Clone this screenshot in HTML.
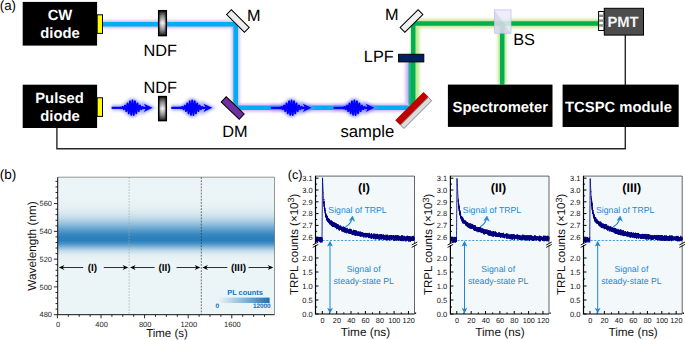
<!DOCTYPE html>
<html><head><meta charset="utf-8"><title>Figure</title>
<style>
html,body{margin:0;padding:0;background:#fff;}
body{width:685px;height:340px;overflow:hidden;}
svg{display:block;font-family:"Liberation Sans", Arial, sans-serif;text-rendering:geometricPrecision;}
.b{font-weight:bold;}
</style></head><body>
<svg width="685" height="340" viewBox="0 0 685 340">
<defs>
<filter id="gl" x="0" y="0" width="685" height="340" filterUnits="userSpaceOnUse"><feGaussianBlur stdDeviation="1.5"/></filter>
<filter id="gp" x="0" y="0" width="685" height="340" filterUnits="userSpaceOnUse"><feGaussianBlur stdDeviation="1.8"/></filter>
<linearGradient id="ndf" x1="0" y1="0" x2="0" y2="1"><stop offset="0" stop-color="#1c1c1c"/><stop offset="0.22" stop-color="#8e8e8e"/><stop offset="0.5" stop-color="#f6f6f6"/><stop offset="0.78" stop-color="#8e8e8e"/><stop offset="1" stop-color="#1c1c1c"/></linearGradient>
<linearGradient id="ndfh" x1="0" y1="0" x2="1" y2="0"><stop offset="0" stop-color="#000" stop-opacity="0.28"/><stop offset="0.5" stop-color="#000" stop-opacity="0"/><stop offset="1" stop-color="#000" stop-opacity="0.28"/></linearGradient>
<linearGradient id="hm" x1="0" y1="0" x2="0" y2="1">
<stop offset="0.000" stop-color="rgb(235,244,246)"/>
<stop offset="0.020" stop-color="rgb(235,244,246)"/>
<stop offset="0.040" stop-color="rgb(235,244,246)"/>
<stop offset="0.060" stop-color="rgb(235,244,246)"/>
<stop offset="0.080" stop-color="rgb(235,244,246)"/>
<stop offset="0.100" stop-color="rgb(235,244,246)"/>
<stop offset="0.120" stop-color="rgb(235,244,246)"/>
<stop offset="0.140" stop-color="rgb(235,244,246)"/>
<stop offset="0.160" stop-color="rgb(234,243,246)"/>
<stop offset="0.180" stop-color="rgb(233,243,245)"/>
<stop offset="0.200" stop-color="rgb(231,242,245)"/>
<stop offset="0.220" stop-color="rgb(228,240,244)"/>
<stop offset="0.240" stop-color="rgb(223,237,243)"/>
<stop offset="0.260" stop-color="rgb(216,232,240)"/>
<stop offset="0.280" stop-color="rgb(205,226,237)"/>
<stop offset="0.300" stop-color="rgb(190,217,233)"/>
<stop offset="0.320" stop-color="rgb(171,205,227)"/>
<stop offset="0.340" stop-color="rgb(148,191,220)"/>
<stop offset="0.360" stop-color="rgb(122,176,213)"/>
<stop offset="0.380" stop-color="rgb(96,160,205)"/>
<stop offset="0.400" stop-color="rgb(72,146,198)"/>
<stop offset="0.420" stop-color="rgb(54,134,193)"/>
<stop offset="0.440" stop-color="rgb(43,128,190)"/>
<stop offset="0.460" stop-color="rgb(41,127,189)"/>
<stop offset="0.480" stop-color="rgb(67,142,197)"/>
<stop offset="0.500" stop-color="rgb(114,171,211)"/>
<stop offset="0.520" stop-color="rgb(162,200,225)"/>
<stop offset="0.540" stop-color="rgb(199,222,235)"/>
<stop offset="0.560" stop-color="rgb(220,235,242)"/>
<stop offset="0.580" stop-color="rgb(230,241,244)"/>
<stop offset="0.600" stop-color="rgb(233,243,246)"/>
<stop offset="0.620" stop-color="rgb(235,244,246)"/>
<stop offset="0.640" stop-color="rgb(235,244,246)"/>
<stop offset="0.660" stop-color="rgb(235,244,246)"/>
<stop offset="0.680" stop-color="rgb(235,244,246)"/>
<stop offset="0.700" stop-color="rgb(235,244,246)"/>
<stop offset="0.720" stop-color="rgb(235,244,246)"/>
<stop offset="0.740" stop-color="rgb(235,244,246)"/>
<stop offset="0.760" stop-color="rgb(235,244,246)"/>
<stop offset="0.780" stop-color="rgb(235,244,246)"/>
<stop offset="0.800" stop-color="rgb(235,244,246)"/>
<stop offset="0.820" stop-color="rgb(235,244,246)"/>
<stop offset="0.840" stop-color="rgb(235,244,246)"/>
<stop offset="0.860" stop-color="rgb(235,244,246)"/>
<stop offset="0.880" stop-color="rgb(235,244,246)"/>
<stop offset="0.900" stop-color="rgb(235,244,246)"/>
<stop offset="0.920" stop-color="rgb(235,244,246)"/>
<stop offset="0.940" stop-color="rgb(235,244,246)"/>
<stop offset="0.960" stop-color="rgb(235,244,246)"/>
<stop offset="0.980" stop-color="rgb(235,244,246)"/>
<stop offset="1.000" stop-color="rgb(235,244,246)"/>
</linearGradient>
<linearGradient id="cb" x1="0" y1="0" x2="1" y2="0"><stop offset="0" stop-color="#eef6f8"/><stop offset="0.5" stop-color="#86b9dc"/><stop offset="1" stop-color="#1f6fb2"/></linearGradient>
<g id="pulse"><path d="M0.5,0 L9,0 L9.00,-0.26 L9.16,-0.16 L9.32,-0.01 L9.48,0.17 L9.64,0.35 L9.80,0.49 L9.96,0.57 L10.12,0.56 L10.28,0.44 L10.44,0.24 L10.60,-0.05 L10.76,-0.36 L10.92,-0.66 L11.08,-0.89 L11.24,-0.99 L11.40,-0.93 L11.56,-0.70 L11.72,-0.31 L11.88,0.18 L12.04,0.70 L12.20,1.16 L12.36,1.48 L12.52,1.59 L12.68,1.43 L12.84,1.00 L13.00,0.36 L13.16,-0.43 L13.32,-1.22 L13.48,-1.89 L13.64,-2.31 L13.80,-2.38 L13.96,-2.04 L14.12,-1.33 L14.28,-0.32 L14.44,0.84 L14.60,1.97 L14.76,2.86 L14.92,3.34 L15.08,3.31 L15.24,2.71 L15.40,1.61 L15.56,0.15 L15.72,-1.45 L15.88,-2.92 L16.04,-4.01 L16.20,-4.50 L16.36,-4.28 L16.52,-3.33 L16.68,-1.76 L16.84,0.19 L17.00,2.23 L17.16,4.01 L17.32,5.22 L17.48,5.64 L17.64,5.14 L17.80,3.78 L17.96,1.73 L18.12,-0.70 L18.28,-3.11 L18.44,-5.10 L18.60,-6.33 L18.76,-6.57 L18.92,-5.74 L19.08,-3.95 L19.24,-1.47 L19.40,1.32 L19.56,3.95 L19.72,6.01 L19.88,7.13 L20.04,7.11 L20.20,5.95 L20.36,3.80 L20.52,1.02 L20.68,-1.95 L20.84,-4.62 L21.00,-6.57 L21.16,-7.46 L21.32,-7.16 L21.48,-5.71 L21.64,-3.35 L21.80,-0.47 L21.96,2.47 L22.12,4.98 L22.28,6.67 L22.44,7.27 L22.60,6.70 L22.76,5.08 L22.92,2.68 L23.08,-0.09 L23.24,-2.78 L23.40,-4.95 L23.56,-6.28 L23.72,-6.58 L23.88,-5.83 L24.04,-4.18 L24.20,-1.93 L24.36,0.54 L24.52,2.82 L24.68,4.56 L24.84,5.51 L25.00,5.54 L25.16,4.70 L25.32,3.17 L25.48,1.22 L25.64,-0.82 L25.80,-2.61 L25.96,-3.89 L26.12,-4.48 L26.28,-4.34 L26.44,-3.53 L26.60,-2.22 L26.76,-0.65 L26.92,0.91 L27.08,2.21 L27.24,3.08 L27.40,3.40 L27.56,3.16 L27.72,2.45 L27.88,1.42 L28.04,0.25 L28.20,-0.85 L28.36,-1.73 L28.52,-2.26 L28.68,-2.39 L28.84,-2.14 L29.00,-1.58 L29.16,-0.83 L29.32,-0.02 L29.48,0.70 L29.64,1.25 L29.80,1.54 L29.96,1.57 L30.12,1.35 L30.28,0.94 L30.44,0.44 L30.60,-0.08 L30.76,-0.52 L30.92,-0.83 L31.08,-0.98 L31.24,-0.95 L31.40,-0.79 L31.56,-0.52 L31.72,-0.20 L31.88,0.10 L32.04,0.35 L32.20,0.51 L32.36,0.58 L32.52,0.54 L32.68,0.43 L32.84,0.26 L33.00,0.08 L36,0" fill="none" stroke-width="1.7" stroke-linejoin="round"/><path d="M0.5,0 H36" fill="none" stroke-width="2.1"/><path d="M41.3,0 L32.6,-4.1 L34.8,0 L32.6,4.1 Z" stroke="none"/></g>
<g id="pulseg"><path d="M0.5,0 L9,0 L9.00,-0.26 L9.16,-0.16 L9.32,-0.01 L9.48,0.17 L9.64,0.35 L9.80,0.49 L9.96,0.57 L10.12,0.56 L10.28,0.44 L10.44,0.24 L10.60,-0.05 L10.76,-0.36 L10.92,-0.66 L11.08,-0.89 L11.24,-0.99 L11.40,-0.93 L11.56,-0.70 L11.72,-0.31 L11.88,0.18 L12.04,0.70 L12.20,1.16 L12.36,1.48 L12.52,1.59 L12.68,1.43 L12.84,1.00 L13.00,0.36 L13.16,-0.43 L13.32,-1.22 L13.48,-1.89 L13.64,-2.31 L13.80,-2.38 L13.96,-2.04 L14.12,-1.33 L14.28,-0.32 L14.44,0.84 L14.60,1.97 L14.76,2.86 L14.92,3.34 L15.08,3.31 L15.24,2.71 L15.40,1.61 L15.56,0.15 L15.72,-1.45 L15.88,-2.92 L16.04,-4.01 L16.20,-4.50 L16.36,-4.28 L16.52,-3.33 L16.68,-1.76 L16.84,0.19 L17.00,2.23 L17.16,4.01 L17.32,5.22 L17.48,5.64 L17.64,5.14 L17.80,3.78 L17.96,1.73 L18.12,-0.70 L18.28,-3.11 L18.44,-5.10 L18.60,-6.33 L18.76,-6.57 L18.92,-5.74 L19.08,-3.95 L19.24,-1.47 L19.40,1.32 L19.56,3.95 L19.72,6.01 L19.88,7.13 L20.04,7.11 L20.20,5.95 L20.36,3.80 L20.52,1.02 L20.68,-1.95 L20.84,-4.62 L21.00,-6.57 L21.16,-7.46 L21.32,-7.16 L21.48,-5.71 L21.64,-3.35 L21.80,-0.47 L21.96,2.47 L22.12,4.98 L22.28,6.67 L22.44,7.27 L22.60,6.70 L22.76,5.08 L22.92,2.68 L23.08,-0.09 L23.24,-2.78 L23.40,-4.95 L23.56,-6.28 L23.72,-6.58 L23.88,-5.83 L24.04,-4.18 L24.20,-1.93 L24.36,0.54 L24.52,2.82 L24.68,4.56 L24.84,5.51 L25.00,5.54 L25.16,4.70 L25.32,3.17 L25.48,1.22 L25.64,-0.82 L25.80,-2.61 L25.96,-3.89 L26.12,-4.48 L26.28,-4.34 L26.44,-3.53 L26.60,-2.22 L26.76,-0.65 L26.92,0.91 L27.08,2.21 L27.24,3.08 L27.40,3.40 L27.56,3.16 L27.72,2.45 L27.88,1.42 L28.04,0.25 L28.20,-0.85 L28.36,-1.73 L28.52,-2.26 L28.68,-2.39 L28.84,-2.14 L29.00,-1.58 L29.16,-0.83 L29.32,-0.02 L29.48,0.70 L29.64,1.25 L29.80,1.54 L29.96,1.57 L30.12,1.35 L30.28,0.94 L30.44,0.44 L30.60,-0.08 L30.76,-0.52 L30.92,-0.83 L31.08,-0.98 L31.24,-0.95 L31.40,-0.79 L31.56,-0.52 L31.72,-0.20 L31.88,0.10 L32.04,0.35 L32.20,0.51 L32.36,0.58 L32.52,0.54 L32.68,0.43 L32.84,0.26 L33.00,0.08 L36,0" fill="none" stroke-width="4.5" stroke-linejoin="round"/><path d="M0.5,0 H36" fill="none" stroke-width="5"/><path d="M41.3,0 L32.6,-4.1 L34.8,0 L32.6,4.1 Z" stroke-width="3"/></g>
</defs>
<rect width="685" height="340" fill="#fff"/>

<g filter="url(#gl)" fill="none" stroke-linecap="butt">
<path d="M103,24.2 H235.7 V107.7 H408" stroke="#c39bf0" stroke-width="7.6" opacity="0.8"/>
<path d="M409.3,104 V62" stroke="#c39bf0" stroke-width="7.6" opacity="0.8"/>
<path d="M415,104 V23.6 H600" stroke="#9ad84a" stroke-width="8.5" opacity="0.62"/>
<path d="M502.2,23.6 V84" stroke="#9ad84a" stroke-width="8.5" opacity="0.62"/>
</g>
<path d="M103,24.2 H235.7 V107.7 H410" fill="none" stroke="#00aeef" stroke-width="4.6"/>
<path d="M410.2,105 V62" fill="none" stroke="#1fb38f" stroke-width="3.4"/>
<path d="M413.2,104 V23.6 H600" fill="none" stroke="#00b050" stroke-width="4.5"/>
<path d="M502.2,23.6 V84.5" fill="none" stroke="#00b050" stroke-width="4.5"/>
<path d="M56.9,127 V148.8 H625.3 V126" fill="none" stroke="#262626" stroke-width="1.4"/>
<path d="M625.3,35 V85" fill="none" stroke="#262626" stroke-width="1.4"/>
<rect x="22.7" y="1.9" width="74.4" height="43.7" fill="#000"/>
<rect x="22.7" y="84.7" width="74.4" height="43.3" fill="#000"/>
<rect x="447.9" y="84.6" width="104.6" height="42.3" fill="#000"/>
<rect x="562.6" y="84.6" width="116.1" height="42.4" fill="#000"/>
<rect x="97.2" y="14.8" width="5.3" height="18.6" fill="#ffff00" stroke="#000" stroke-width="1"/>
<rect x="97.2" y="97.8" width="5.3" height="18.6" fill="#ffff00" stroke="#000" stroke-width="1"/>
<rect x="604.3" y="8.3" width="39.2" height="26.8" fill="#4d4d4d" stroke="#000" stroke-width="1"/>
<rect x="598.6" y="11.5" width="5.4" height="19" fill="#fff" stroke="#000" stroke-width="1"/>
<rect x="599.1" y="14.6" width="4.4" height="2.4" fill="#888"/>
<rect x="599.1" y="19.4" width="4.4" height="2.4" fill="#888"/>
<rect x="599.1" y="24.2" width="4.4" height="2.4" fill="#888"/>
<text x="60" y="20.1" font-size="14.8" text-anchor="middle" fill="#fff" class="b">CW</text>
<text x="60" y="37.7" font-size="14.8" text-anchor="middle" fill="#fff" class="b">diode</text>
<text x="59.5" y="103.1" font-size="14.8" text-anchor="middle" fill="#fff" class="b">Pulsed</text>
<text x="60" y="121.1" font-size="14.8" text-anchor="middle" fill="#fff" class="b">diode</text>
<text x="500.3" y="111.5" font-size="14.8" text-anchor="middle" fill="#fff" class="b">Spectrometer</text>
<text x="618.5" y="111.5" font-size="14.8" text-anchor="middle" fill="#fff" class="b">TCSPC module</text>
<text x="623" y="26.9" font-size="14.8" text-anchor="middle" fill="#f4f4f4" class="b">PMT</text>
<rect x="158.7" y="10.7" width="7.6" height="24.9" fill="url(#ndf)" stroke="#000" stroke-width="1.5"/><rect x="158.7" y="10.7" width="7.6" height="24.9" fill="url(#ndfh)"/>
<rect x="158.7" y="96.6" width="7.6" height="24" fill="url(#ndf)" stroke="#000" stroke-width="1.5"/><rect x="158.7" y="96.6" width="7.6" height="24" fill="url(#ndfh)"/>
<text x="160.2" y="55.6" font-size="16.3" text-anchor="middle" fill="#000">NDF</text>
<text x="160.2" y="93.2" font-size="16.3" text-anchor="middle" fill="#000">NDF</text>
<rect x="-12.6" y="-3.4" width="25.2" height="6.8" transform="translate(237.9,21) rotate(45)" fill="#ececec" stroke="#000" stroke-width="1"/>
<rect x="-12.6" y="-3.4" width="25.2" height="6.8" transform="translate(411.5,21) rotate(-44.5)" fill="#f0f0f0" stroke="#000" stroke-width="1"/>
<text x="253.9" y="20.5" font-size="16.3" text-anchor="middle" fill="#000">M</text>
<text x="391.9" y="20.3" font-size="16.3" text-anchor="middle" fill="#000">M</text>
<rect x="-12.5" y="-3.6" width="25" height="7.2" transform="translate(232.7,108) rotate(44)" fill="#7030a0" stroke="#000" stroke-width="1"/>
<text x="235" y="137.2" font-size="16.3" text-anchor="middle" fill="#000">DM</text>
<rect x="398.6" y="54.3" width="25.2" height="7.6" fill="#002060" stroke="#000" stroke-width="1"/>
<text x="378.8" y="62.4" font-size="16.3" text-anchor="middle" fill="#000">LPF</text>
<rect x="494.4" y="9.9" width="16.6" height="23.3" fill="#e9eafc" fill-opacity="0.84" stroke="#b4c0ee" stroke-width="0.7"/>
<path d="M494.4,9.9 L511,33.2 L494.4,33.2 Z" fill="#b9bccb" fill-opacity="0.35"/>
<text x="524" y="45.2" font-size="16.3" text-anchor="middle" fill="#000">BS</text>
<g transform="translate(413.7,110.5) rotate(-45)"><rect x="-20" y="-6.1" width="40" height="7.1" fill="#c00000"/><rect x="-19.6" y="1.0" width="39.2" height="4.8" fill="#dcdcdc" stroke="#7f7f7f" stroke-width="0.9"/></g>
<text x="367.4" y="137.2" font-size="16.7" text-anchor="middle" fill="#000">sample</text>
<g filter="url(#gp)" opacity="0.8"><use href="#pulseg" x="111.3" y="107.8" stroke="#8a92ff" fill="#8a92ff"/></g>
<use href="#pulse" x="111.3" y="107.8" stroke="#0000ff" fill="#0000ff"/>
<g filter="url(#gp)" opacity="0.8"><use href="#pulseg" x="171" y="107.8" stroke="#8a92ff" fill="#8a92ff"/></g>
<use href="#pulse" x="171" y="107.8" stroke="#0000ff" fill="#0000ff"/>
<g filter="url(#gp)" opacity="0.8"><use href="#pulseg" x="270.3" y="107.8" stroke="#8a92ff" fill="#8a92ff"/></g>
<use href="#pulse" x="270.3" y="107.8" stroke="#0000ff" fill="#0000ff"/>
<g filter="url(#gp)" opacity="0.8"><use href="#pulseg" x="333.2" y="107.8" stroke="#8a92ff" fill="#8a92ff"/></g>
<use href="#pulse" x="333.2" y="107.8" stroke="#0000ff" fill="#0000ff"/>
<text x="-0.3" y="9.8" font-size="13.3" text-anchor="start" fill="#000">(a)</text>
<text x="-0.3" y="179" font-size="13.5" text-anchor="start" fill="#000">(b)</text>
<text x="287.7" y="179.1" font-size="12.7" text-anchor="start" fill="#000">(c)</text>
<rect x="57.7" y="177.2" width="216.8" height="137.5" fill="url(#hm)"/>
<path d="M129.1,177.2 V314.7" stroke="#a8a8a8" stroke-width="0.7" stroke-dasharray="1.6,1.4"/>
<path d="M201.3,177.2 V314.7" stroke="#333" stroke-width="0.7" stroke-dasharray="1.8,1.3"/>
<path d="M57.7,177.2 V314.7 H274.5" fill="none" stroke="#111" stroke-width="1"/>
<path d="M57.7,177.2 H274.5 V314.7" fill="none" stroke="#555" stroke-width="0.6"/>
<text x="52" y="317.4" font-size="7.5" text-anchor="end" fill="#222">480</text>
<text x="52" y="289.6" font-size="7.5" text-anchor="end" fill="#222">500</text>
<text x="52" y="261.8" font-size="7.5" text-anchor="end" fill="#222">520</text>
<text x="52" y="234.1" font-size="7.5" text-anchor="end" fill="#222">540</text>
<text x="52" y="206.3" font-size="7.5" text-anchor="end" fill="#222">560</text>
<text x="58.0" y="326.8" font-size="7.5" text-anchor="middle" fill="#222">0</text>
<text x="101.6" y="326.8" font-size="7.5" text-anchor="middle" fill="#222">400</text>
<text x="145.2" y="326.8" font-size="7.5" text-anchor="middle" fill="#222">800</text>
<text x="188.8" y="326.8" font-size="7.5" text-anchor="middle" fill="#222">1200</text>
<text x="232.4" y="326.8" font-size="7.5" text-anchor="middle" fill="#222">1600</text>
<path d="M53.9,314.70 H57.7 M55.5,309.14 H57.7 M55.5,303.59 H57.7 M55.5,298.03 H57.7 M55.5,292.48 H57.7 M53.9,286.92 H57.7 M55.5,281.36 H57.7 M55.5,275.81 H57.7 M55.5,270.25 H57.7 M55.5,264.70 H57.7 M53.9,259.14 H57.7 M55.5,253.58 H57.7 M55.5,248.03 H57.7 M55.5,242.47 H57.7 M55.5,236.92 H57.7 M53.9,231.36 H57.7 M55.5,225.80 H57.7 M55.5,220.25 H57.7 M55.5,214.69 H57.7 M55.5,209.14 H57.7 M53.9,203.58 H57.7 M55.5,198.02 H57.7 M55.5,192.47 H57.7 M55.5,186.91 H57.7 M55.5,181.36 H57.7 M57.40,314.7 V318.3 M68.30,314.7 V316.8 M79.20,314.7 V316.8 M90.10,314.7 V316.8 M101.00,314.7 V318.3 M111.90,314.7 V316.8 M122.80,314.7 V316.8 M133.70,314.7 V316.8 M144.60,314.7 V318.3 M155.50,314.7 V316.8 M166.40,314.7 V316.8 M177.30,314.7 V316.8 M188.20,314.7 V318.3 M199.10,314.7 V316.8 M210.00,314.7 V316.8 M220.90,314.7 V316.8 M231.80,314.7 V318.3 M242.70,314.7 V316.8 M253.60,314.7 V316.8 M264.50,314.7 V316.8" stroke="#111" stroke-width="0.9" fill="none"/>
<text x="167" y="337.2" font-size="11.5" text-anchor="middle" fill="#111">Time (s)</text>
<text transform="translate(35.6,246) rotate(-90)" font-size="11.8" text-anchor="middle" fill="#111">Wavelength (nm)</text>
<path d="M60.8,267.5 H83.2 M103.8,267.5 H126.2" stroke="#000" stroke-width="0.8"/>
<path d="M58.8,267.5 l5.6,-2.4 l-1.7,2.4 l1.7,2.4 Z" fill="#000"/>
<path d="M128.2,267.5 l-5.6,-2.4 l1.7,2.4 l-1.7,2.4 Z" fill="#000"/>
<text x="92.4" y="271.0" font-size="10" text-anchor="middle" fill="#000" class="b">(I)</text>
<path d="M132.0,267.5 H154.6 M176.5,267.5 H198.3" stroke="#000" stroke-width="0.8"/>
<path d="M130.0,267.5 l5.6,-2.4 l-1.7,2.4 l1.7,2.4 Z" fill="#000"/>
<path d="M200.3,267.5 l-5.6,-2.4 l1.7,2.4 l-1.7,2.4 Z" fill="#000"/>
<text x="164.6" y="271.0" font-size="10" text-anchor="middle" fill="#000" class="b">(II)</text>
<path d="M204.3,267.5 H227.4 M248.5,267.5 H271.3" stroke="#000" stroke-width="0.8"/>
<path d="M202.3,267.5 l5.6,-2.4 l-1.7,2.4 l1.7,2.4 Z" fill="#000"/>
<path d="M273.3,267.5 l-5.6,-2.4 l1.7,2.4 l-1.7,2.4 Z" fill="#000"/>
<text x="238.5" y="271.0" font-size="10" text-anchor="middle" fill="#000" class="b">(III)</text>
<rect x="217.5" y="297.6" width="52.1" height="5.4" fill="url(#cb)"/>
<text x="245" y="295.2" font-size="7.4" text-anchor="middle" fill="#1170c4" class="b">PL counts</text>
<text x="217.4" y="308.4" font-size="6.4" text-anchor="middle" fill="#1170c4" class="b">0</text>
<text x="261.8" y="308.4" font-size="6.4" text-anchor="middle" fill="#1170c4" class="b">12000</text>
<rect x="315.5" y="176.1" width="99.0" height="137.9" fill="#f3f9fb"/>
<path d="M322.5,240.5 H414.5" stroke="#1f86d0" stroke-width="0.8" stroke-dasharray="2.2,1.5"/>
<polyline points="316.27,241.31 316.30,239.33 316.34,238.56 316.38,240.43 316.41,241.44 316.45,239.88 316.48,239.20 316.52,238.44 316.56,241.30 316.59,241.40 316.63,238.92 316.66,239.21 316.70,237.90 316.74,238.58 316.77,239.92 316.81,240.14 316.84,236.96 316.88,240.15 316.92,240.77 316.95,241.21 316.99,239.68 317.02,239.62 317.06,240.22 317.09,239.87 317.13,239.46 317.17,238.94 317.20,238.44 317.24,239.54 317.27,242.01 317.31,238.93 317.35,241.56 317.38,240.01 317.42,241.62 317.45,239.79 317.49,240.76 317.53,239.53 317.56,236.96 317.60,239.86 317.63,238.75 317.67,241.44 317.70,240.15 317.74,238.98 317.78,239.91 317.81,239.34 317.85,239.67 317.88,241.04 317.92,239.10 317.96,240.80 317.99,237.48 318.03,240.42 318.06,238.95 318.10,239.79 318.14,238.62 318.17,240.54 318.21,238.56 318.24,239.95 318.28,238.23 318.32,239.02 318.35,239.62 318.39,240.76 318.42,238.84 318.46,239.22 318.49,237.76 318.53,240.26 318.57,239.11 318.60,239.17 318.64,239.45 318.67,239.54 318.71,239.57 318.75,240.54 318.78,241.05 318.82,240.29 318.85,239.06 318.89,237.92 318.93,238.59 318.96,238.49 319.00,238.83 319.03,238.93 319.07,239.57 319.10,238.84 319.14,237.60 319.18,240.20 319.21,240.66 319.25,237.37 319.28,239.49 319.32,238.59 319.36,238.71 319.39,241.20 319.43,236.96 319.46,237.60 319.50,239.58 319.54,238.86 319.57,239.64 319.61,240.89 319.64,239.93 319.68,239.33 319.72,238.41 319.75,238.92 319.79,239.72 319.82,238.12 319.86,240.74 319.89,238.81 319.93,238.42 319.97,240.16 320.00,242.01 320.04,240.92 320.07,239.50 320.11,239.14 320.15,237.88 320.18,241.04 320.22,239.79 320.25,238.99 320.29,239.99 320.33,242.63 320.36,238.80 320.40,236.96 320.43,238.55 320.47,240.93 320.50,240.31 320.54,239.52 320.58,236.96 320.61,239.03 320.65,239.66 320.68,237.87 320.72,239.90 320.76,237.49 320.79,240.64 320.83,240.38 320.86,238.90 320.90,238.03 320.94,238.99 320.97,239.42 321.01,242.05 321.04,240.68 321.08,240.55 321.12,240.46 321.15,239.07 321.19,240.21 321.22,238.82 321.26,239.69 321.29,240.21 321.33,239.65 321.37,239.26 321.40,238.73 321.44,240.39 321.47,240.08 321.51,241.49 321.55,237.81 321.58,238.00 321.62,240.02 321.65,240.39 321.69,241.33 321.73,239.59 321.76,239.54 321.80,237.09 321.83,239.49 321.87,240.76 321.91,242.63 321.94,238.05 321.98,239.56 322.01,241.79 322.05,235.35 322.08,231.63 322.12,225.80 322.16,221.85 322.19,217.67 322.23,213.56 322.26,209.91 322.30,204.78 322.34,200.93 322.37,195.75 322.41,192.38 322.44,187.54 322.48,182.37 322.52,177.82 322.55,179.50 322.59,180.51 322.62,180.48 322.66,181.34 322.69,182.85 322.73,183.55 322.77,184.34 322.80,185.30 322.84,185.87 322.87,185.89 322.91,186.83 322.95,187.03 322.98,188.52 323.02,189.22 323.05,190.20 323.09,190.53 323.13,191.61 323.16,192.40 323.20,192.09 323.23,192.41 323.27,193.22 323.31,193.61 323.34,194.57 323.38,195.48 323.41,195.71 323.45,196.41 323.48,197.20 323.52,197.91 323.56,198.33 323.59,198.26 323.63,198.67 323.66,199.36 323.70,199.11 323.74,200.01 323.77,199.79 323.81,199.43 323.84,202.37 323.88,204.20 323.92,201.22 323.95,203.40 323.99,201.30 324.02,202.88 324.06,202.41 324.10,203.07 324.13,206.95 324.17,203.82 324.20,205.88 324.24,206.31 324.27,206.24 324.31,205.06 324.35,205.23 324.38,205.37 324.42,208.98 324.45,207.94 324.49,210.33 324.53,207.90 324.56,207.30 324.60,209.26 324.63,208.27 324.67,208.55 324.71,207.84 324.74,210.35 324.78,210.60 324.81,210.76 324.85,207.87 324.88,208.92 324.92,210.65 324.96,210.43 324.99,210.78 325.03,210.88 325.06,211.60 325.10,211.96 325.14,213.30 325.17,212.73 325.21,210.08 325.24,211.65 325.28,212.41 325.32,212.94 325.35,212.77 325.39,212.59 325.42,213.99 325.46,213.12 325.50,213.22 325.53,214.61 325.57,214.82 325.60,215.23 325.64,215.46 325.67,213.19 325.71,217.27 325.75,214.91 325.78,215.48 325.82,215.63 325.85,214.87 325.89,213.73 325.93,215.16 325.96,215.56 326.00,216.27 326.03,215.79 326.07,214.62 326.11,216.36 326.14,217.41 326.18,217.67 326.21,217.59 326.25,218.05 326.28,215.07 326.32,216.10 326.36,216.94 326.39,214.94 326.43,217.67 326.46,216.02 326.50,216.06 326.54,219.06 326.57,219.17 326.61,218.49 326.64,216.31 326.68,215.91 326.72,219.13 326.75,216.40 326.79,218.26 326.82,218.35 326.86,218.63 326.90,218.43 326.93,220.36 326.97,219.43 327.00,219.80 327.04,217.74 327.07,215.83 327.11,215.66 327.15,218.99 327.18,220.78 327.22,219.22 327.25,219.95 327.29,216.40 327.33,218.21 327.36,219.89 327.40,217.90 327.43,218.46 327.47,221.20 327.51,219.91 327.54,219.61 327.58,219.35 327.61,219.27 327.65,219.91 327.69,219.32 327.72,220.34 327.76,220.78 327.79,217.85 327.83,219.34 327.86,219.29 327.90,221.87 327.94,220.15 327.97,218.99 328.01,221.65 328.04,218.74 328.08,220.64 328.12,219.71 328.15,220.42 328.19,220.04 328.22,218.86 328.26,220.90 328.30,218.51 328.33,221.47 328.37,221.70 328.40,219.71 328.44,221.96 328.47,221.14 328.51,219.60 328.55,219.27 328.58,223.01 328.62,220.23 328.65,218.57 328.69,219.46 328.73,221.28 328.76,221.77 328.80,221.44 328.83,222.54 328.87,221.48 328.91,221.42 328.94,221.41 328.98,219.80 329.01,221.59 329.05,223.15 329.09,220.08 329.12,222.75 329.16,222.01 329.19,221.66 329.23,221.96 329.26,222.81 329.30,221.91 329.34,218.93 329.37,222.43 329.41,221.88 329.44,220.35 329.48,220.86 329.52,220.87 329.55,220.78 329.59,224.32 329.62,222.99 329.66,221.79 329.70,221.36 329.73,220.41 329.77,221.47 329.80,222.37 329.84,222.06 329.87,222.40 329.91,221.87 329.95,221.37 329.98,222.66 330.02,223.28 330.05,223.36 330.09,220.97 330.13,220.77 330.16,221.16 330.20,221.36 330.23,221.42 330.27,222.48 330.31,221.69 330.34,223.84 330.38,222.82 330.41,223.51 330.45,221.72 330.49,223.37 330.52,222.82 330.56,222.21 330.59,221.06 330.63,223.75 330.66,223.96 330.70,221.81 330.74,224.22 330.77,222.32 330.81,223.61 330.84,223.06 330.88,225.21 330.92,222.10 330.95,223.63 330.99,224.15 331.02,220.49 331.06,222.21 331.10,220.28 331.13,222.64 331.17,223.60 331.20,223.06 331.24,221.23 331.28,223.28 331.31,222.71 331.35,222.66 331.38,224.45 331.42,223.19 331.45,224.00 331.49,224.94 331.53,222.34 331.56,222.62 331.60,223.38 331.63,224.62 331.67,226.01 331.71,222.94 331.74,223.69 331.78,225.68 331.81,223.69 331.85,225.53 331.89,223.70 331.92,223.51 331.96,223.27 331.99,223.47 332.03,223.55 332.06,225.20 332.10,224.28 332.14,224.47 332.17,224.15 332.21,223.54 332.24,223.13 332.28,221.90 332.32,226.78 332.35,223.47 332.39,224.24 332.42,221.20 332.46,222.88 332.50,226.11 332.53,223.59 332.57,224.75 332.60,222.90 332.64,225.46 332.68,224.30 332.71,224.36 332.75,224.34 332.78,224.97 332.82,226.54 332.85,223.72 332.89,223.07 332.93,224.41 332.96,225.61 333.00,224.12 333.03,223.70 333.07,224.64 333.11,224.46 333.14,222.72 333.18,225.87 333.21,225.20 333.25,226.89 333.29,225.41 333.32,225.48 333.36,225.78 333.39,225.47 333.43,222.41 333.46,224.90 333.50,224.82 333.54,221.97 333.57,224.79 333.61,226.89 333.64,224.26 333.68,225.94 333.72,222.77 333.75,226.37 333.79,225.56 333.82,226.85 333.86,224.76 333.90,226.16 333.93,225.01 333.97,225.41 334.00,225.73 334.04,223.82 334.08,223.85 334.11,224.95 334.15,226.16 334.18,226.39 334.22,224.75 334.25,222.28 334.29,225.69 334.33,226.12 334.36,226.03 334.40,226.55 334.43,226.41 334.47,225.48 334.51,223.47 334.54,225.27 334.58,225.92 334.61,227.31 334.65,225.06 334.69,225.38 334.72,226.89 334.76,226.73 334.79,225.46 334.83,224.17 334.87,224.67 334.90,225.21 334.94,225.89 334.97,225.11 335.01,225.54 335.04,222.85 335.08,226.97 335.12,226.04 335.15,224.03 335.19,225.95 335.22,223.88 335.26,225.72 335.30,225.50 335.33,226.16 335.37,227.43 335.40,226.94 335.44,223.01 335.48,224.98 335.51,225.04 335.55,224.63 335.58,225.13 335.62,224.59 335.65,226.20 335.69,226.17 335.73,224.69 335.76,226.36 335.80,227.59 335.83,226.24 335.87,226.66 335.91,225.24 335.94,226.91 335.98,227.35 336.01,226.47 336.05,224.15 336.09,226.15 336.12,225.91 336.16,226.12 336.19,225.78 336.23,225.02 336.27,224.46 336.30,228.24 336.34,224.54 336.37,226.25 336.41,226.66 336.44,223.45 336.48,226.51 336.52,223.91 336.55,225.13 336.59,227.63 336.62,225.76 336.66,225.47 336.70,226.56 336.73,229.26 336.77,226.87 336.80,226.70 336.84,227.85 336.88,224.23 336.91,226.82 336.95,227.02 336.98,226.92 337.02,227.54 337.05,227.55 337.09,226.49 337.13,226.23 337.16,227.27 337.20,226.77 337.23,228.40 337.27,226.04 337.31,227.64 337.34,226.46 337.38,227.87 337.41,227.40 337.45,226.51 337.49,228.30 337.52,223.98 337.56,226.88 337.59,226.94 337.63,227.78 337.67,224.91 337.70,225.18 337.74,226.55 337.77,228.63 337.81,227.58 337.84,226.21 337.88,227.62 337.92,228.47 337.95,228.49 337.99,227.99 338.02,227.04 338.06,227.88 338.10,227.07 338.13,224.27 338.17,224.93 338.20,228.43 338.24,226.73 338.28,227.07 338.31,227.36 338.35,225.92 338.38,227.64 338.42,227.64 338.46,227.72 338.49,227.40 338.53,225.70 338.56,226.35 338.60,228.99 338.63,227.89 338.67,228.35 338.71,226.36 338.74,227.11 338.78,226.31 338.81,227.50 338.85,229.81 338.89,226.90 338.92,227.19 338.96,226.86 338.99,229.12 339.03,227.42 339.07,228.39 339.10,228.41 339.14,227.14 339.17,227.15 339.21,228.71 339.24,229.74 339.28,230.47 339.32,228.37 339.35,226.28 339.39,227.76 339.42,230.49 339.46,228.79 339.50,227.21 339.53,225.68 339.57,226.32 339.60,227.33 339.64,227.56 339.68,229.13 339.71,228.39 339.75,228.26 339.78,228.82 339.82,227.80 339.86,228.38 339.89,227.49 339.93,226.15 339.96,227.02 340.00,227.44 340.03,228.27 340.07,229.87 340.11,228.15 340.14,227.35 340.18,229.29 340.21,226.50 340.25,228.48 340.29,227.62 340.32,228.51 340.36,229.67 340.39,225.57 340.43,229.59 340.47,227.02 340.50,228.87 340.54,227.85 340.57,229.21 340.61,228.74 340.64,227.10 340.68,225.84 340.72,229.32 340.75,228.27 340.79,227.13 340.82,229.10 340.86,227.45 340.90,229.32 340.93,227.61 340.97,227.84 341.00,226.89 341.04,227.96 341.08,229.90 341.11,227.62 341.15,229.82 341.18,227.54 341.22,226.61 341.26,227.76 341.29,229.20 341.33,227.05 341.36,228.34 341.40,230.10 341.43,229.01 341.47,226.83 341.51,228.98 341.54,228.47 341.58,229.06 341.61,230.74 341.65,229.30 341.69,228.24 341.72,228.43 341.76,228.92 341.79,231.37 341.83,227.22 341.87,227.86 341.90,227.50 341.94,227.17 341.97,229.35 342.01,229.56 342.05,228.44 342.08,226.77 342.12,230.94 342.15,229.15 342.19,229.77 342.22,228.20 342.26,227.10 342.30,229.29 342.33,230.48 342.37,228.89 342.40,229.32 342.44,230.90 342.48,227.90 342.51,229.66 342.55,228.18 342.58,230.67 342.62,227.70 342.66,230.86 342.69,227.78 342.73,231.34 342.76,227.40 342.80,229.59 342.83,231.07 342.87,229.45 342.91,228.75 342.94,230.41 342.98,229.81 343.01,228.88 343.05,229.43 343.09,232.07 343.12,229.79 343.16,228.74 343.19,228.91 343.23,228.04 343.27,230.16 343.30,226.49 343.34,228.35 343.37,228.96 343.41,228.02 343.45,228.20 343.48,229.27 343.52,230.17 343.55,228.15 343.59,228.91 343.62,231.79 343.66,230.83 343.70,228.90 343.73,229.35 343.77,229.15 343.80,228.72 343.84,229.35 343.88,227.58 343.91,230.29 343.95,230.06 343.98,229.18 344.02,228.67 344.06,228.63 344.09,227.78 344.13,230.23 344.16,228.20 344.20,229.08 344.23,230.97 344.27,229.86 344.31,227.12 344.34,228.74 344.38,230.31 344.41,232.58 344.45,230.67 344.49,230.64 344.52,229.69 344.56,226.97 344.59,228.89 344.63,229.44 344.67,231.00 344.70,231.32 344.74,230.12 344.77,230.46 344.81,227.06 344.85,230.40 344.88,230.68 344.92,228.53 344.95,229.85 344.99,231.48 345.02,228.37 345.06,230.37 345.10,231.64 345.13,229.61 345.17,229.42 345.20,230.45 345.24,229.18 345.28,229.04 345.31,231.16 345.35,232.63 345.38,232.93 345.42,230.27 345.46,228.60 345.49,228.89 345.53,228.42 345.56,227.86 345.60,230.15 345.64,228.88 345.67,232.09 345.71,229.36 345.74,229.74 345.78,230.35 345.81,230.80 345.85,231.64 345.89,230.10 345.92,228.70 345.96,230.75 345.99,229.65 346.03,231.15 346.07,230.02 346.10,231.60 346.14,229.89 346.17,230.64 346.21,230.00 346.25,231.15 346.28,231.87 346.32,230.83 346.35,229.15 346.39,228.49 346.42,230.86 346.46,229.48 346.50,229.55 346.53,230.01 346.57,232.43 346.60,230.12 346.64,231.74 346.68,229.09 346.71,229.58 346.75,229.81 346.78,233.42 346.82,229.83 346.86,229.74 346.89,232.20 346.93,229.43 346.96,230.55 347.00,230.88 347.04,231.55 347.07,231.94 347.11,231.23 347.14,227.87 347.18,230.46 347.21,230.47 347.25,231.54 347.29,231.52 347.32,231.45 347.36,231.87 347.39,229.70 347.43,231.13 347.47,229.74 347.50,232.25 347.54,229.68 347.57,230.88 347.61,230.03 347.65,231.00 347.68,231.98 347.72,229.39 347.75,231.44 347.79,231.10 347.82,232.03 347.86,230.69 347.90,231.43 347.93,230.61 347.97,230.55 348.00,231.84 348.04,232.75 348.08,230.47 348.11,229.88 348.15,230.17 348.18,232.46 348.22,230.31 348.26,230.59 348.29,230.73 348.33,230.56 348.36,231.50 348.40,230.85 348.44,229.98 348.47,231.76 348.51,232.93 348.54,231.29 348.58,230.93 348.61,233.47 348.65,232.03 348.69,230.47 348.72,231.40 348.76,231.11 348.79,232.80 348.83,230.13 348.87,229.09 348.90,231.52 348.94,232.19 348.97,232.73 349.01,230.20 349.05,231.19 349.08,232.31 349.12,229.83 349.15,230.40 349.19,230.61 349.23,233.55 349.26,231.51 349.30,230.62 349.33,232.92 349.37,230.26 349.40,229.65 349.44,230.16 349.48,232.34 349.51,232.34 349.55,230.30 349.58,230.25 349.62,229.97 349.66,230.01 349.69,231.64 349.73,232.03 349.76,233.83 349.80,230.57 349.84,228.74 349.87,232.14 349.91,232.17 349.94,230.79 349.98,231.14 350.01,233.31 350.05,232.51 350.09,232.99 350.12,229.14 350.16,232.54 350.19,230.61 350.23,229.30 350.27,229.34 350.30,229.93 350.34,229.69 350.37,233.25 350.41,232.16 350.45,232.64 350.48,232.11 350.52,228.93 350.55,233.85 350.59,231.09 350.63,233.32 350.66,230.14 350.70,230.20 350.73,232.46 350.77,229.27 350.80,231.75 350.84,230.24 350.88,231.48 350.91,232.57 350.95,232.36 350.98,232.04 351.02,231.14 351.06,231.76 351.09,229.09 351.13,232.17 351.16,232.52 351.20,232.85 351.24,232.93 351.27,233.76 351.31,233.21 351.34,230.87 351.38,231.93 351.41,232.23 351.45,231.59 351.49,230.71 351.52,231.28 351.56,231.10 351.59,232.76 351.63,232.40 351.67,233.05 351.70,232.22 351.74,233.12 351.77,232.58 351.81,232.34 351.85,232.41 351.88,232.48 351.92,232.77 351.95,230.54 351.99,232.60 352.03,233.44 352.06,231.96 352.10,233.56 352.13,233.55 352.17,232.12 352.20,234.30 352.24,235.08 352.28,231.90 352.31,230.98 352.35,234.35 352.38,233.40 352.42,231.58 352.46,234.77 352.49,233.40 352.53,233.82 352.56,232.58 352.60,234.79 352.64,231.25 352.67,232.54 352.71,232.00 352.74,232.79 352.78,235.02 352.81,232.59 352.85,234.07 352.89,232.41 352.92,233.49 352.96,232.83 352.99,232.71 353.03,231.50 353.07,231.52 353.10,233.72 353.14,232.51 353.17,230.69 353.21,231.90 353.25,233.42 353.28,232.68 353.32,232.97 353.35,231.38 353.39,232.51 353.43,232.10 353.46,229.83 353.50,234.29 353.53,233.85 353.57,234.75 353.60,234.58 353.64,231.56 353.68,232.27 353.71,230.62 353.75,235.09 353.78,233.75 353.82,230.88 353.86,231.40 353.89,231.59 353.93,231.61 353.96,232.66 354.00,232.73 354.04,232.68 354.07,231.69 354.11,232.94 354.14,232.35 354.18,230.96 354.22,234.16 354.25,233.71 354.29,232.09 354.32,233.12 354.36,233.00 354.39,230.21 354.43,232.31 354.47,233.35 354.50,231.48 354.54,230.02 354.57,234.23 354.61,233.70 354.65,232.73 354.68,233.67 354.72,230.20 354.75,232.25 354.79,233.41 354.83,232.31 354.86,233.92 354.90,233.69 354.93,232.82 354.97,230.12 355.00,235.75 355.04,232.45 355.08,231.31 355.11,232.07 355.15,230.62 355.18,232.45 355.22,232.84 355.26,233.19 355.29,234.10 355.33,231.02 355.36,234.52 355.40,233.21 355.44,233.72 355.47,234.05 355.51,235.84 355.54,233.57 355.58,232.93 355.62,232.94 355.65,232.08 355.69,233.33 355.72,233.93 355.76,232.77 355.79,232.33 355.83,234.28 355.87,235.06 355.90,234.45 355.94,231.88 355.97,231.96 356.01,234.31 356.05,233.08 356.08,232.18 356.12,231.59 356.15,234.06 356.19,233.55 356.23,231.51 356.26,230.43 356.30,231.38 356.33,234.70 356.37,232.74 356.40,233.67 356.44,233.38 356.48,234.14 356.51,233.92 356.55,233.35 356.58,231.11 356.62,232.48 356.66,232.83 356.69,233.33 356.73,234.31 356.76,233.67 356.80,231.86 356.84,232.37 356.87,230.97 356.91,233.09 356.94,233.45 356.98,235.44 357.02,232.95 357.05,235.58 357.09,231.57 357.12,234.25 357.16,233.47 357.19,235.16 357.23,234.10 357.27,234.65 357.30,232.10 357.34,233.21 357.37,234.98 357.41,235.92 357.45,233.62 357.48,234.15 357.52,234.93 357.55,232.83 357.59,233.80 357.63,233.44 357.66,234.32 357.70,234.30 357.73,234.17 357.77,235.60 357.81,232.84 357.84,233.13 357.88,235.77 357.91,233.51 357.95,232.22 357.98,233.36 358.02,232.06 358.06,234.01 358.09,233.68 358.13,235.30 358.16,234.82 358.20,235.96 358.24,234.82 358.27,233.42 358.31,233.08 358.34,232.29 358.38,233.58 358.42,234.98 358.45,233.22 358.49,233.95 358.52,231.56 358.56,231.36 358.59,232.60 358.63,235.20 358.67,234.46 358.70,233.58 358.74,234.70 358.77,233.18 358.81,232.99 358.85,232.80 358.88,233.57 358.92,234.95 358.95,234.91 358.99,234.03 359.03,232.24 359.06,231.94 359.10,232.68 359.13,233.45 359.17,233.07 359.21,232.90 359.24,232.32 359.28,232.87 359.31,235.84 359.35,232.77 359.38,233.48 359.42,234.53 359.46,233.32 359.49,233.62 359.53,234.05 359.56,236.09 359.60,233.86 359.64,233.32 359.67,234.08 359.71,235.99 359.74,233.46 359.78,233.15 359.82,233.82 359.85,233.52 359.89,234.50 359.92,234.88 359.96,233.42 359.99,234.52 360.03,233.86 360.07,231.26 360.10,233.22 360.14,233.94 360.17,236.13 360.21,234.01 360.25,233.19 360.28,235.01 360.32,234.44 360.35,236.95 360.39,233.47 360.43,234.91 360.46,233.33 360.50,232.49 360.53,234.39 360.57,232.98 360.61,233.89 360.64,234.46 360.68,234.57 360.71,235.28 360.75,232.64 360.78,233.15 360.82,235.49 360.86,233.21 360.89,235.16 360.93,236.13 360.96,232.79 361.00,235.87 361.04,232.82 361.07,234.05 361.11,233.18 361.14,233.68 361.18,232.89 361.22,233.89 361.25,233.61 361.29,234.03 361.32,232.99 361.36,234.84 361.40,233.10 361.43,232.50 361.47,234.45 361.50,233.83 361.54,235.02 361.57,234.75 361.61,234.08 361.65,234.83 361.68,235.51 361.72,234.46 361.75,234.19 361.79,234.03 361.83,233.56 361.86,236.64 361.90,232.70 361.93,234.67 361.97,235.42 362.01,234.93 362.04,233.93 362.08,233.41 362.11,234.95 362.15,234.30 362.18,236.48 362.22,234.30 362.26,234.66 362.29,235.06 362.33,233.44 362.36,232.32 362.40,233.27 362.44,235.52 362.47,232.67 362.51,234.98 362.54,234.62 362.58,235.30 362.62,234.02 362.65,233.91 362.69,234.42 362.72,234.87 362.76,234.79 362.80,235.12 362.83,233.42 362.87,235.28 362.90,234.82 362.94,234.90 362.97,235.58 363.01,234.94 363.05,236.48 363.08,234.17 363.12,234.01 363.15,235.06 363.19,232.77 363.23,235.71 363.26,234.02 363.30,234.12 363.33,235.38 363.37,235.02 363.41,233.63 363.44,234.66 363.48,234.39 363.51,233.02 363.55,234.49 363.58,236.82 363.62,235.67 363.66,233.74 363.69,234.94 363.73,236.12 363.76,237.23 363.80,234.40 363.84,232.95 363.87,236.36 363.91,237.49 363.94,234.21 363.98,235.50 364.02,235.20 364.05,235.24 364.09,235.96 364.12,234.31 364.16,233.73 364.20,234.42 364.23,235.56 364.27,233.60 364.30,235.02 364.34,234.18 364.37,236.05 364.41,234.10 364.45,233.99 364.48,233.33 364.52,234.89 364.55,234.38 364.59,235.64 364.63,233.85 364.66,233.99 364.70,233.62 364.73,235.43 364.77,236.47 364.81,235.05 364.84,235.23 364.88,235.90 364.91,234.25 364.95,233.83 364.99,234.52 365.02,233.64 365.06,234.53 365.09,236.22 365.13,235.74 365.16,235.46 365.20,234.19 365.24,233.91 365.27,234.88 365.31,233.81 365.34,236.07 365.38,235.20 365.42,233.24 365.45,234.53 365.49,233.80 365.52,237.40 365.56,237.14 365.60,236.16 365.63,233.87 365.67,233.12 365.70,235.87 365.74,236.33 365.77,236.37 365.81,236.23 365.85,234.46 365.88,235.53 365.92,232.86 365.95,234.28 365.99,236.00 366.03,234.88 366.06,235.36 366.10,234.22 366.13,234.08 366.17,235.62 366.21,234.11 366.24,234.51 366.28,235.31 366.31,234.90 366.35,234.39 366.39,235.61 366.42,236.06 366.46,233.69 366.49,235.24 366.53,235.97 366.56,234.69 366.60,237.06 366.64,235.20 366.67,236.93 366.71,235.80 366.74,237.45 366.78,236.16 366.82,234.20 366.85,235.52 366.89,236.78 366.92,233.19 366.96,236.08 367.00,233.51 367.03,235.97 367.07,237.11 367.10,233.09 367.14,235.87 367.17,234.42 367.21,233.90 367.25,236.96 367.28,235.28 367.32,236.07 367.35,234.64 367.39,235.40 367.43,236.92 367.46,235.32 367.50,234.47 367.53,235.76 367.57,234.72 367.61,236.06 367.64,235.48 367.68,235.00 367.71,235.25 367.75,233.89 367.79,234.29 367.82,234.42 367.86,234.57 367.89,235.27 367.93,236.87 367.96,234.17 368.00,233.36 368.04,235.20 368.07,235.79 368.11,235.53 368.14,234.02 368.18,235.15 368.22,236.69 368.25,235.72 368.29,236.44 368.32,235.76 368.36,236.61 368.40,236.59 368.43,233.73 368.47,234.27 368.50,237.49 368.54,236.74 368.58,236.09 368.61,236.03 368.65,237.24 368.68,234.49 368.72,237.53 368.75,234.74 368.79,234.74 368.83,236.03 368.86,236.39 368.90,235.53 368.93,235.43 368.97,238.15 369.01,237.13 369.04,234.98 369.08,235.76 369.11,236.13 369.15,236.84 369.19,236.49 369.22,236.57 369.26,232.83 369.29,237.17 369.33,233.80 369.36,235.09 369.40,235.41 369.44,235.44 369.47,236.14 369.51,233.74 369.54,235.07 369.58,235.73 369.62,235.85 369.65,235.46 369.69,237.09 369.72,236.10 369.76,236.48 369.80,234.97 369.83,235.00 369.87,237.99 369.90,236.01 369.94,234.55 369.98,237.32 370.01,237.19 370.05,234.55 370.08,235.92 370.12,236.32 370.15,237.25 370.19,235.57 370.23,236.46 370.26,235.53 370.30,235.28 370.33,234.95 370.37,236.20 370.41,236.45 370.44,235.78 370.48,235.94 370.51,235.62 370.55,236.47 370.59,236.12 370.62,236.55 370.66,236.56 370.69,235.66 370.73,234.46 370.76,236.51 370.80,235.16 370.84,235.45 370.87,235.74 370.91,235.05 370.94,236.56 370.98,235.20 371.02,235.53 371.05,238.74 371.09,235.47 371.12,235.18 371.16,233.54 371.20,237.20 371.23,235.80 371.27,235.50 371.30,237.10 371.34,234.48 371.38,235.39 371.41,236.91 371.45,237.40 371.48,236.46 371.52,233.14 371.55,233.35 371.59,238.81 371.63,238.18 371.66,235.17 371.70,236.11 371.73,236.76 371.77,235.26 371.81,235.88 371.84,235.65 371.88,235.68 371.91,237.33 371.95,234.42 371.99,236.58 372.02,234.65 372.06,235.19 372.09,235.98 372.13,235.87 372.17,236.10 372.20,238.28 372.24,236.44 372.27,235.53 372.31,238.02 372.34,237.87 372.38,234.76 372.42,235.09 372.45,237.96 372.49,235.52 372.52,236.15 372.56,234.90 372.60,236.49 372.63,236.37 372.67,237.02 372.70,235.89 372.74,236.27 372.78,236.91 372.81,236.54 372.85,237.04 372.88,235.37 372.92,237.39 372.95,238.03 372.99,237.32 373.03,234.83 373.06,236.77 373.10,235.37 373.13,235.27 373.17,236.79 373.21,235.25 373.24,235.56 373.28,236.23 373.31,237.04 373.35,236.26 373.39,237.76 373.42,236.53 373.46,236.91 373.49,235.67 373.53,235.79 373.57,237.00 373.60,235.16 373.64,234.77 373.67,236.15 373.71,237.14 373.74,235.62 373.78,239.08 373.82,236.96 373.85,235.54 373.89,233.81 373.92,237.16 373.96,234.40 374.00,233.44 374.03,233.97 374.07,239.11 374.10,234.94 374.14,236.05 374.18,235.05 374.21,236.51 374.25,237.05 374.28,236.58 374.32,234.47 374.35,235.28 374.39,236.67 374.43,235.85 374.46,235.26 374.50,235.63 374.53,236.38 374.57,237.14 374.61,237.25 374.64,236.88 374.68,237.03 374.71,238.29 374.75,238.09 374.79,235.29 374.82,237.74 374.86,237.98 374.89,236.43 374.93,234.60 374.97,234.83 375.00,236.89 375.04,237.66 375.07,237.05 375.11,237.52 375.14,237.08 375.18,235.82 375.22,237.72 375.25,237.37 375.29,236.74 375.32,236.46 375.36,237.37 375.40,237.40 375.43,237.83 375.47,237.36 375.50,235.80 375.54,236.75 375.58,239.29 375.61,235.70 375.65,236.54 375.68,237.54 375.72,236.78 375.76,239.31 375.79,238.51 375.83,235.04 375.86,233.85 375.90,233.80 375.93,237.40 375.97,236.45 376.01,235.54 376.04,238.02 376.08,234.36 376.11,237.40 376.15,236.08 376.19,237.94 376.22,236.07 376.26,236.55 376.29,235.19 376.33,237.96 376.37,236.55 376.40,234.30 376.44,238.02 376.47,236.12 376.51,236.01 376.54,237.17 376.58,236.89 376.62,234.82 376.65,235.16 376.69,235.87 376.72,236.25 376.76,237.98 376.80,236.47 376.83,234.37 376.87,235.29 376.90,238.28 376.94,239.17 376.98,237.43 377.01,236.40 377.05,237.29 377.08,237.00 377.12,236.20 377.16,235.51 377.19,236.37 377.23,235.08 377.26,238.40 377.30,236.06 377.33,236.12 377.37,238.49 377.41,235.10 377.44,238.63 377.48,238.45 377.51,233.83 377.55,235.06 377.59,236.20 377.62,234.99 377.66,235.25 377.69,238.08 377.73,236.08 377.77,234.95 377.80,236.89 377.84,236.60 377.87,237.27 377.91,235.79 377.94,237.39 377.98,237.44 378.02,238.24 378.05,237.87 378.09,236.45 378.12,236.14 378.16,237.21 378.20,238.03 378.23,236.31 378.27,236.29 378.30,235.16 378.34,237.36 378.38,237.26 378.41,236.11 378.45,234.86 378.48,236.82 378.52,236.86 378.56,237.93 378.59,237.24 378.63,235.59 378.66,235.72 378.70,235.39 378.73,238.83 378.77,235.74 378.81,237.94 378.84,236.05 378.88,239.63 378.91,236.92 378.95,237.91 378.99,235.22 379.02,236.66 379.06,235.19 379.09,237.37 379.13,234.37 379.17,237.38 379.20,234.46 379.24,237.44 379.27,238.06 379.31,235.72 379.35,237.34 379.38,236.92 379.42,238.53 379.45,237.28 379.49,236.71 379.52,237.74 379.56,236.37 379.60,239.70 379.63,235.75 379.67,237.38 379.70,235.04 379.74,237.32 379.78,237.70 379.81,237.45 379.85,236.54 379.88,236.15 379.92,237.48 379.96,237.90 379.99,236.36 380.03,235.87 380.06,239.09 380.10,238.23 380.13,237.76 380.17,234.78 380.21,235.38 380.24,235.93 380.28,236.31 380.31,238.33 380.35,235.53 380.39,237.49 380.42,237.94 380.46,234.52 380.49,238.76 380.53,235.22 380.57,236.70 380.60,238.11 380.64,236.74 380.67,238.02 380.71,236.73 380.75,237.78 380.78,238.46 380.82,234.15 380.85,237.61 380.89,235.75 380.92,237.05 380.96,236.14 381.00,238.58 381.03,238.31 381.07,239.84 381.10,235.75 381.14,236.45 381.18,238.49 381.21,235.96 381.25,236.27 381.28,234.19 381.32,236.73 381.36,235.88 381.39,236.26 381.43,236.06 381.46,237.07 381.50,237.56 381.53,236.15 381.57,235.50 381.61,238.51 381.64,238.48 381.68,237.11 381.71,234.80 381.75,237.32 381.79,239.20 381.82,236.05 381.86,236.12 381.89,234.63 381.93,236.84 381.97,234.61 382.00,237.99 382.04,235.95 382.07,236.92 382.11,238.59 382.15,237.44 382.18,235.43 382.22,235.70 382.25,237.58 382.29,235.71 382.32,235.98 382.36,235.99 382.40,236.75 382.43,236.74 382.47,238.16 382.50,237.21 382.54,236.97 382.58,238.05 382.61,237.49 382.65,236.93 382.68,236.87 382.72,235.82 382.76,238.43 382.79,237.64 382.83,236.81 382.86,237.63 382.90,236.74 382.94,237.75 382.97,235.68 383.01,237.45 383.04,238.59 383.08,236.23 383.11,235.09 383.15,239.59 383.19,237.34 383.22,237.10 383.26,235.89 383.29,235.31 383.33,237.39 383.37,239.15 383.40,236.36 383.44,235.94 383.47,236.62 383.51,237.11 383.55,238.23 383.58,234.39 383.62,238.72 383.65,239.11 383.69,236.00 383.72,236.86 383.76,236.38 383.80,236.78 383.83,235.12 383.87,235.45 383.90,237.93 383.94,235.98 383.98,238.72 384.01,239.38 384.05,235.74 384.08,237.79 384.12,239.94 384.16,237.28 384.19,238.09 384.23,236.63 384.26,237.34 384.30,238.23 384.34,238.16 384.37,236.31 384.41,238.44 384.44,237.12 384.48,238.52 384.51,236.72 384.55,235.06 384.59,236.58 384.62,235.90 384.66,236.73 384.69,238.50 384.73,237.68 384.77,237.22 384.80,236.76 384.84,238.07 384.87,236.55 384.91,238.22 384.95,237.24 384.98,237.33 385.02,238.77 385.05,236.07 385.09,237.27 385.12,237.20 385.16,237.37 385.20,239.97 385.23,239.09 385.27,238.46 385.30,236.10 385.34,238.07 385.38,236.59 385.41,238.64 385.45,238.41 385.48,237.95 385.52,236.04 385.56,239.44 385.59,237.59 385.63,236.86 385.66,237.20 385.70,237.40 385.74,236.40 385.77,237.02 385.81,238.64 385.84,236.59 385.88,238.37 385.91,237.82 385.95,235.58 385.99,234.57 386.02,235.58 386.06,236.87 386.09,238.38 386.13,238.36 386.17,235.33 386.20,237.00 386.24,239.15 386.27,235.46 386.31,236.70 386.35,235.78 386.38,236.92 386.42,240.12 386.45,238.35 386.49,237.61 386.53,237.65 386.56,235.55 386.60,238.28 386.63,237.57 386.67,237.52 386.70,237.56 386.74,238.75 386.78,238.98 386.81,240.30 386.85,237.05 386.88,237.72 386.92,237.21 386.96,238.79 386.99,237.47 387.03,238.69 387.06,238.74 387.10,237.06 387.14,236.69 387.17,236.76 387.21,237.54 387.24,237.97 387.28,235.75 387.31,235.94 387.35,238.29 387.39,238.86 387.42,237.04 387.46,237.11 387.49,238.65 387.53,234.69 387.57,240.12 387.60,238.56 387.64,237.21 387.67,236.28 387.71,239.84 387.75,238.07 387.78,235.73 387.82,235.77 387.85,237.85 387.89,237.49 387.93,238.64 387.96,237.05 388.00,238.85 388.03,240.08 388.07,239.45 388.10,237.48 388.14,239.20 388.18,236.17 388.21,235.95 388.25,236.31 388.28,236.75 388.32,236.15 388.36,237.24 388.39,236.49 388.43,236.99 388.46,236.60 388.50,238.84 388.54,238.40 388.57,238.83 388.61,236.55 388.64,236.95 388.68,238.57 388.71,238.82 388.75,238.31 388.79,236.51 388.82,237.74 388.86,237.90 388.89,238.46 388.93,237.75 388.97,235.61 389.00,238.47 389.04,238.05 389.07,235.49 389.11,236.72 389.15,239.04 389.18,236.26 389.22,239.20 389.25,236.93 389.29,240.47 389.33,238.87 389.36,236.49 389.40,238.38 389.43,238.54 389.47,237.57 389.50,237.64 389.54,238.23 389.58,238.49 389.61,235.40 389.65,235.79 389.68,237.24 389.72,239.09 389.76,238.32 389.79,238.02 389.83,237.05 389.86,235.67 389.90,238.32 389.94,237.48 389.97,238.21 390.01,237.50 390.04,238.53 390.08,237.21 390.12,236.23 390.15,238.18 390.19,238.09 390.22,237.54 390.26,239.33 390.29,235.43 390.33,239.36 390.37,238.14 390.40,238.80 390.44,235.83 390.47,238.31 390.51,238.34 390.55,235.35 390.58,237.86 390.62,238.68 390.65,237.72 390.69,237.47 390.73,238.65 390.76,237.95 390.80,237.98 390.83,236.82 390.87,236.77 390.90,236.69 390.94,237.88 390.98,236.74 391.01,238.00 391.05,236.29 391.08,237.24 391.12,238.27 391.16,236.21 391.19,239.63 391.23,238.96 391.26,238.75 391.30,237.92 391.34,239.29 391.37,239.26 391.41,240.12 391.44,237.62 391.48,238.72 391.52,235.03 391.55,236.80 391.59,239.20 391.62,236.13 391.66,237.64 391.69,236.43 391.73,239.16 391.77,236.33 391.80,236.41 391.84,238.30 391.87,238.85 391.91,238.26 391.95,237.46 391.98,234.97 392.02,235.54 392.05,235.93 392.09,238.07 392.13,238.21 392.16,237.34 392.20,238.15 392.23,238.39 392.27,238.07 392.30,236.76 392.34,237.90 392.38,237.52 392.41,238.15 392.45,238.06 392.48,238.23 392.52,236.25 392.56,237.54 392.59,235.97 392.63,238.04 392.66,236.51 392.70,239.56 392.74,238.34 392.77,237.91 392.81,238.63 392.84,237.99 392.88,239.00 392.92,238.05 392.95,238.68 392.99,237.86 393.02,238.22 393.06,239.10 393.09,238.37 393.13,237.82 393.17,239.45 393.20,237.74 393.24,236.31 393.27,238.15 393.31,237.19 393.35,237.10 393.38,238.87 393.42,236.23 393.45,235.06 393.49,239.16 393.53,235.21 393.56,238.77 393.60,236.07 393.63,240.14 393.67,236.47 393.71,237.72 393.74,239.49 393.78,238.92 393.81,239.20 393.85,239.02 393.88,237.43 393.92,238.13 393.96,240.75 393.99,238.30 394.03,237.33 394.06,237.80 394.10,235.81 394.14,240.20 394.17,237.61 394.21,237.88 394.24,237.02 394.28,239.59 394.32,239.55 394.35,238.14 394.39,237.83 394.42,240.19 394.46,237.48 394.49,237.94 394.53,237.02 394.57,240.78 394.60,237.32 394.64,239.05 394.67,238.54 394.71,236.97 394.75,235.84 394.78,237.76 394.82,238.09 394.85,236.32 394.89,239.07 394.93,238.15 394.96,238.59 395.00,239.19 395.03,237.72 395.07,235.43 395.11,237.66 395.14,237.35 395.18,238.01 395.21,236.57 395.25,237.75 395.28,239.08 395.32,237.85 395.36,236.19 395.39,238.09 395.43,236.49 395.46,238.07 395.50,235.46 395.54,237.64 395.57,237.17 395.61,238.35 395.64,236.95 395.68,238.28 395.72,239.84 395.75,237.62 395.79,239.51 395.82,236.16 395.86,237.02 395.89,237.99 395.93,237.15 395.97,240.85 396.00,236.10 396.04,238.82 396.07,237.18 396.11,235.20 396.15,240.03 396.18,238.54 396.22,237.60 396.25,237.50 396.29,240.13 396.33,239.19 396.36,236.18 396.40,238.78 396.43,237.34 396.47,239.74 396.51,239.17 396.54,240.31 396.58,237.70 396.61,236.60 396.65,237.93 396.68,238.39 396.72,237.75 396.76,237.47 396.79,238.41 396.83,237.36 396.86,235.62 396.90,235.29 396.94,238.77 396.97,239.63 397.01,235.67 397.04,236.84 397.08,236.55 397.12,237.31 397.15,238.35 397.19,236.85 397.22,236.68 397.26,236.61 397.30,239.43 397.33,236.79 397.37,238.52 397.40,238.53 397.44,237.64 397.47,238.52 397.51,235.26 397.55,237.38 397.58,237.75 397.62,238.33 397.65,237.78 397.69,238.38 397.73,237.37 397.76,237.02 397.80,237.05 397.83,239.66 397.87,238.51 397.91,238.00 397.94,239.63 397.98,237.63 398.01,238.29 398.05,238.04 398.08,237.64 398.12,238.89 398.16,236.18 398.19,236.82 398.23,238.80 398.26,237.54 398.30,237.19 398.34,239.08 398.37,238.57 398.41,237.26 398.44,240.97 398.48,239.77 398.52,237.72 398.55,237.36 398.59,239.29 398.62,237.07 398.66,235.38 398.70,237.88 398.73,238.19 398.77,238.05 398.80,239.41 398.84,237.46 398.87,237.92 398.91,237.22 398.95,236.37 398.98,238.10 399.02,237.93 399.05,237.75 399.09,235.99 399.13,239.97 399.16,238.16 399.20,238.94 399.23,238.00 399.27,237.13 399.31,238.08 399.34,237.25 399.38,237.93 399.41,239.06 399.45,238.99 399.48,239.89 399.52,237.89 399.56,238.67 399.59,237.13 399.63,236.97 399.66,239.28 399.70,239.53 399.74,237.43 399.77,239.28 399.81,237.93 399.84,237.43 399.88,238.67 399.92,235.97 399.95,239.16 399.99,237.66 400.02,238.71 400.06,241.04 400.10,238.41 400.13,238.40 400.17,237.48 400.20,238.37 400.24,239.11 400.27,238.85 400.31,238.59 400.35,237.27 400.38,238.55 400.42,236.68 400.45,237.15 400.49,239.14 400.53,236.93 400.56,241.03 400.60,238.19 400.63,239.44 400.67,238.34 400.71,236.79 400.74,238.23 400.78,238.44 400.81,236.64 400.85,239.18 400.89,239.26 400.92,237.02 400.96,237.47 400.99,240.01 401.03,238.05 401.06,237.27 401.10,238.44 401.14,238.74 401.17,238.07 401.21,237.98 401.24,239.12 401.28,237.21 401.32,240.21 401.35,238.34 401.39,235.59 401.42,239.57 401.46,238.30 401.50,241.09 401.53,239.29 401.57,239.69 401.60,238.19 401.64,238.88 401.67,235.98 401.71,239.41 401.75,238.30 401.78,238.00 401.82,237.47 401.85,237.16 401.89,240.22 401.93,235.55 401.96,238.66 402.00,239.17 402.03,240.33 402.07,238.83 402.11,240.49 402.14,238.05 402.18,239.03 402.21,237.88 402.25,239.27 402.29,238.20 402.32,235.52 402.36,236.84 402.39,238.09 402.43,239.52 402.46,236.48 402.50,240.41 402.54,240.06 402.57,236.69 402.61,239.05 402.64,236.63 402.68,237.59 402.72,235.60 402.75,236.09 402.79,237.58 402.82,239.10 402.86,237.58 402.90,236.57 402.93,238.15 402.97,241.16 403.00,238.79 403.04,238.78 403.07,238.40 403.11,238.76 403.15,236.91 403.18,239.90 403.22,237.78 403.25,240.80 403.29,241.04 403.33,239.59 403.36,239.27 403.40,239.45 403.43,239.21 403.47,237.58 403.51,237.62 403.54,238.25 403.58,238.10 403.61,239.21 403.65,239.57 403.69,240.12 403.72,238.87 403.76,239.76 403.79,238.76 403.83,237.46 403.86,237.68 403.90,236.71 403.94,239.52 403.97,241.09 404.01,239.74 404.04,235.89 404.08,237.50 404.12,238.91 404.15,236.73 404.19,238.89 404.22,236.30 404.26,238.88 404.30,238.88 404.33,237.51 404.37,239.80 404.40,238.59 404.44,235.98 404.48,237.84 404.51,239.76 404.55,238.70 404.58,238.42 404.62,239.33 404.65,237.88 404.69,236.84 404.73,238.33 404.76,237.29 404.80,238.03 404.83,238.23 404.87,239.33 404.91,237.21 404.94,236.72 404.98,238.96 405.01,239.49 405.05,237.76 405.09,238.28 405.12,237.01 405.16,237.80 405.19,238.57 405.23,240.13 405.26,237.64 405.30,238.29 405.34,239.99 405.37,240.27 405.41,240.69 405.44,237.65 405.48,238.96 405.52,241.25 405.55,239.52 405.59,239.22 405.62,238.57 405.66,238.39 405.70,238.85 405.73,237.51 405.77,237.16 405.80,238.71 405.84,236.48 405.88,238.59 405.91,239.51 405.95,238.25 405.98,240.22 406.02,238.81 406.05,239.76 406.09,238.98 406.13,238.20 406.16,241.28 406.20,237.96 406.23,238.13 406.27,238.72 406.31,237.56 406.34,238.03 406.38,238.91 406.41,239.70 406.45,237.55 406.49,237.52 406.52,240.29 406.56,239.37 406.59,239.93 406.63,237.43 406.66,239.18 406.70,240.02 406.74,236.60 406.77,237.90 406.81,238.18 406.84,238.17 406.88,238.69 406.92,238.43 406.95,237.36 406.99,237.93 407.02,239.05 407.06,238.36 407.10,236.16 407.13,239.17 407.17,240.12 407.20,238.34 407.24,239.90 407.28,235.65 407.31,237.71 407.35,237.76 407.38,238.04 407.42,236.05 407.45,239.76 407.49,238.56 407.53,240.57 407.56,236.96 407.60,238.59 407.63,236.30 407.67,238.85 407.71,239.80 407.74,239.38 407.78,237.51 407.81,239.53 407.85,238.19 407.89,239.41 407.92,239.40 407.96,239.21 407.99,236.49 408.03,239.85 408.07,238.12 408.10,237.52 408.14,239.45 408.17,240.39 408.21,236.65 408.24,236.36 408.28,238.84 408.32,240.02 408.35,237.44 408.39,238.58 408.42,239.56 408.46,239.01 408.50,241.35 408.53,239.55 408.57,240.05 408.60,240.18 408.64,237.81 408.68,238.21 408.71,236.43 408.75,241.36 408.78,239.37 408.82,239.60 408.85,236.89 408.89,237.26 408.93,238.40 408.96,238.44 409.00,239.49 409.03,239.20 409.07,239.11 409.11,241.37 409.14,236.19 409.18,237.64 409.21,235.96 409.25,237.02 409.29,237.94 409.32,237.52 409.36,240.68 409.39,239.83 409.43,237.50 409.47,239.05 409.50,240.59 409.54,238.59 409.57,240.18 409.61,238.57 409.64,236.62 409.68,240.00 409.72,239.14 409.75,237.89 409.79,238.61 409.82,238.35 409.86,239.64 409.90,239.01 409.93,241.40 409.97,238.81 410.00,236.98 410.04,239.99 410.08,238.82 410.11,237.71 410.15,237.06 410.18,237.14 410.22,239.71 410.25,239.12 410.29,236.40 410.33,239.18 410.36,238.24 410.40,239.66 410.43,239.43 410.47,241.41 410.51,239.29 410.54,241.36 410.58,239.88 410.61,239.84 410.65,236.92 410.69,237.65 410.72,238.11 410.76,239.27 410.79,240.36 410.83,238.02 410.87,239.66 410.90,238.77 410.94,237.44 410.97,238.86 411.01,238.66 411.04,239.87 411.08,237.31 411.12,237.96 411.15,237.74 411.19,236.59 411.22,240.67 411.26,238.60 411.30,237.83 411.33,238.22 411.37,238.25 411.40,238.05 411.44,240.56 411.48,238.74 411.51,237.18 411.55,238.71 411.58,238.89 411.62,237.58 411.66,240.84 411.69,238.15 411.73,236.74 411.76,238.97 411.80,239.68 411.83,237.99 411.87,239.22 411.91,239.68 411.94,238.45 411.98,240.74 412.01,237.81 412.05,240.16 412.09,239.35 412.12,237.75 412.16,238.70 412.19,238.33 412.23,236.93 412.27,236.75 412.30,236.04 412.34,239.36 412.37,237.51 412.41,240.74 412.44,237.66 412.48,237.03 412.52,239.58 412.55,238.09 412.59,237.62 412.62,238.87 412.66,239.47 412.70,236.78 412.73,240.33 412.77,238.47 412.80,237.48 412.84,238.38 412.88,236.69 412.91,236.82 412.95,238.09 412.98,236.45 413.02,237.74 413.06,240.23 413.09,239.09 413.13,238.34 413.16,238.44 413.20,240.82 413.23,235.82 413.27,240.65 413.31,240.11 413.34,238.13 413.38,238.44 413.41,236.76 413.45,238.41 413.49,238.22 413.52,237.78 413.56,239.62 413.59,240.32 413.63,239.28 413.67,237.42 413.70,239.05 413.74,237.13 413.77,239.39 413.81,237.75 413.84,238.66 413.88,237.64 413.92,238.69 413.95,238.45 413.99,239.29 414.02,237.13 414.06,238.75 414.10,238.07 414.13,237.89 414.17,239.83 414.20,239.75 414.24,238.76 414.28,237.11 414.31,240.03 414.35,239.99 414.38,239.95 414.42,239.20 414.46,240.05 414.49,239.74" fill="none" stroke="#000080" stroke-width="0.85" stroke-linejoin="round"/>
<path d="M315.5,176.1 H414.5 V314.0" fill="none" stroke="#222" stroke-width="0.7"/>
<path d="M315.5,175.79999999999998 V314.0 H414.5" fill="none" stroke="#000" stroke-width="1.2"/>
<path d="M312.7,246.4 l5.6,-3.0 l0,-1.2 l-5.6,3.0 Z" fill="#fff" stroke="none"/>
<path d="M312.7,245.0 l5.6,-3.0 M312.7,247.4 l5.6,-3.0" stroke="#111" stroke-width="1" fill="none"/>
<path d="M411.7,246.4 l5.6,-3.0 l0,-1.2 l-5.6,3.0 Z" fill="#fff" stroke="none"/>
<path d="M411.7,245.0 l5.6,-3.0 M411.7,247.4 l5.6,-3.0" stroke="#111" stroke-width="1" fill="none"/>
<text x="312.8" y="240.0" font-size="7.5" text-anchor="end" fill="#111">2.6</text>
<text x="312.8" y="228.2" font-size="7.5" text-anchor="end" fill="#111">2.7</text>
<text x="312.8" y="216.4" font-size="7.5" text-anchor="end" fill="#111">2.8</text>
<text x="312.8" y="204.6" font-size="7.5" text-anchor="end" fill="#111">2.9</text>
<text x="312.8" y="192.8" font-size="7.5" text-anchor="end" fill="#111">3.0</text>
<text x="312.8" y="181.0" font-size="7.5" text-anchor="end" fill="#111">3.1</text>
<text x="312.8" y="316.8" font-size="7.5" text-anchor="end" fill="#111">0.0</text>
<text x="312.8" y="302.8" font-size="7.5" text-anchor="end" fill="#111">0.5</text>
<text x="312.8" y="288.8" font-size="7.5" text-anchor="end" fill="#111">1.0</text>
<text x="312.8" y="274.8" font-size="7.5" text-anchor="end" fill="#111">1.5</text>
<text x="312.8" y="260.8" font-size="7.5" text-anchor="end" fill="#111">2.0</text>
<text x="322.5" y="323" font-size="7.3" text-anchor="middle" fill="#111">0</text>
<text x="336.9" y="323" font-size="7.3" text-anchor="middle" fill="#111">20</text>
<text x="351.2" y="323" font-size="7.3" text-anchor="middle" fill="#111">40</text>
<text x="365.6" y="323" font-size="7.3" text-anchor="middle" fill="#111">60</text>
<text x="379.9" y="323" font-size="7.3" text-anchor="middle" fill="#111">80</text>
<text x="394.3" y="323" font-size="7.3" text-anchor="middle" fill="#111">100</text>
<text x="408.7" y="323" font-size="7.3" text-anchor="middle" fill="#111">120</text>
<path d="M315.5,237.20 h3.0 M315.5,231.30 h1.6 M315.5,225.40 h3.0 M315.5,219.50 h1.6 M315.5,213.60 h3.0 M315.5,207.70 h1.6 M315.5,201.80 h3.0 M315.5,195.90 h1.6 M315.5,190.00 h3.0 M315.5,184.10 h1.6 M315.5,178.20 h3.0 M315.5,314.00 h3.0 M315.5,307.00 h1.6 M315.5,300.00 h3.0 M315.5,293.00 h1.6 M315.5,286.00 h3.0 M315.5,279.00 h1.6 M315.5,272.00 h3.0 M315.5,265.00 h1.6 M315.5,258.00 h3.0 M322.30,314.0 v-3.0 M329.48,314.0 v-1.6 M336.66,314.0 v-3.0 M343.84,314.0 v-1.6 M351.02,314.0 v-3.0 M358.20,314.0 v-1.6 M365.38,314.0 v-3.0 M372.56,314.0 v-1.6 M379.74,314.0 v-3.0 M386.92,314.0 v-1.6 M394.10,314.0 v-3.0 M401.28,314.0 v-1.6 M408.46,314.0 v-3.0 M415.64,314.0 v-1.6" stroke="#000" stroke-width="1" fill="none"/>
<text x="365.4" y="336.1" font-size="11.8" text-anchor="middle" fill="#111">Time (ns)</text>
<text transform="translate(297.6,244.4) rotate(-90)" font-size="11.5" text-anchor="middle" fill="#111">TRPL counts (×10<tspan font-size="9" dy="-3.6">3</tspan><tspan dy="3.6">)</tspan></text>
<text x="364.0" y="191.6" font-size="12.5" text-anchor="middle" fill="#000" class="b">(I)</text>
<text x="357.5" y="212.8" font-size="8.7" text-anchor="middle" fill="#1f86d0">Signal of TRPL</text>
<path d="M345.5,226.8 q5,-2.6 6.2,-7.5" fill="none" stroke="#1f86d0" stroke-width="1.1"/>
<path d="M352.5,216 l-3.1,4.5 l2.8,-1.1 l2.5,1.8 Z" fill="#1f86d0" stroke="#1f86d0" stroke-width="0.5"/>
<path d="M330.0,244 V310.5" stroke="#1f86d0" stroke-width="1"/>
<path d="M330.0,240.8 l-2.9,5.8 l2.9,-1.4 l2.9,1.4 Z M330.0,313.6 l-2.9,-5.8 l2.9,1.4 l2.9,-1.4 Z" fill="#1f86d0"/>
<text x="363.7" y="272.2" font-size="8.7" text-anchor="middle" fill="#1f86d0">Signal of</text>
<text x="363.7" y="283.8" font-size="8.7" text-anchor="middle" fill="#1f86d0">steady-state PL</text>
<rect x="450.4" y="176.1" width="98.6" height="137.9" fill="#f3f9fb"/>
<path d="M457.4,240.5 H549.0" stroke="#1f86d0" stroke-width="0.8" stroke-dasharray="2.2,1.5"/>
<polyline points="450.77,241.59 450.80,239.51 450.84,240.14 450.88,240.39 450.91,238.60 450.95,239.71 450.98,240.14 451.02,237.56 451.06,240.41 451.09,241.36 451.13,241.50 451.16,240.45 451.20,238.98 451.24,238.74 451.27,238.38 451.31,237.50 451.34,237.66 451.38,238.97 451.42,238.11 451.45,238.94 451.49,240.45 451.52,238.72 451.56,239.66 451.59,240.00 451.63,237.24 451.67,238.77 451.70,240.34 451.74,239.83 451.77,236.96 451.81,240.04 451.85,238.81 451.88,238.95 451.92,239.09 451.95,238.99 451.99,240.33 452.03,240.31 452.06,239.93 452.10,240.18 452.13,238.71 452.17,237.79 452.20,240.84 452.24,239.04 452.28,240.96 452.31,240.60 452.35,240.03 452.38,239.59 452.42,240.28 452.46,242.63 452.49,237.99 452.53,240.07 452.56,240.53 452.60,238.87 452.64,240.48 452.67,241.52 452.71,239.11 452.74,239.20 452.78,240.76 452.82,238.67 452.85,239.26 452.89,241.15 452.92,237.53 452.96,239.39 452.99,241.15 453.03,239.16 453.07,239.57 453.10,238.51 453.14,241.42 453.17,238.42 453.21,238.54 453.25,238.86 453.28,238.96 453.32,238.08 453.35,238.83 453.39,239.57 453.43,240.78 453.46,238.33 453.50,238.49 453.53,239.35 453.57,239.54 453.60,238.82 453.64,242.63 453.68,239.33 453.71,242.63 453.75,239.43 453.78,238.40 453.82,237.35 453.86,240.32 453.89,239.19 453.93,239.82 453.96,242.53 454.00,238.82 454.04,239.75 454.07,239.65 454.11,240.92 454.14,239.79 454.18,239.63 454.22,238.13 454.25,239.37 454.29,236.96 454.32,240.25 454.36,240.07 454.39,239.80 454.43,240.75 454.47,237.84 454.50,238.92 454.54,241.34 454.57,239.60 454.61,238.29 454.65,241.52 454.68,239.55 454.72,240.03 454.75,236.96 454.79,239.22 454.83,240.25 454.86,240.44 454.90,237.36 454.93,240.32 454.97,236.96 455.00,241.70 455.04,239.98 455.08,240.04 455.11,240.62 455.15,240.00 455.18,238.87 455.22,240.57 455.26,241.54 455.29,238.05 455.33,237.89 455.36,240.60 455.40,239.35 455.44,242.63 455.47,238.43 455.51,241.41 455.54,240.43 455.58,237.02 455.62,241.32 455.65,239.71 455.69,241.08 455.72,242.06 455.76,241.20 455.79,239.40 455.83,241.38 455.87,240.48 455.90,238.82 455.94,239.94 455.97,241.38 456.01,237.86 456.05,239.59 456.08,237.97 456.12,241.05 456.15,237.62 456.19,241.43 456.23,241.93 456.26,240.27 456.30,240.21 456.33,239.41 456.37,240.44 456.41,238.94 456.44,238.06 456.48,240.56 456.51,241.47 456.55,235.55 456.58,230.70 456.62,226.32 456.66,222.38 456.69,218.24 456.73,213.49 456.76,208.74 456.80,204.99 456.84,199.84 456.87,195.87 456.91,191.46 456.94,187.42 456.98,182.29 457.02,178.40 457.05,179.61 457.09,179.62 457.12,180.95 457.16,181.23 457.19,182.40 457.23,183.51 457.27,184.00 457.30,185.03 457.34,185.91 457.37,186.33 457.41,186.75 457.45,187.75 457.48,188.50 457.52,189.36 457.55,189.60 457.59,190.36 457.63,190.74 457.66,191.59 457.70,191.53 457.73,193.52 457.77,193.54 457.81,193.89 457.84,194.31 457.88,195.77 457.91,196.19 457.95,196.27 457.98,196.37 458.02,196.85 458.06,198.33 458.09,198.19 458.13,198.27 458.16,199.16 458.20,200.01 458.24,200.33 458.27,202.13 458.31,199.39 458.34,201.62 458.38,202.24 458.42,203.20 458.45,202.66 458.49,204.01 458.52,204.47 458.56,203.66 458.60,204.25 458.63,203.74 458.67,204.48 458.70,203.51 458.74,205.38 458.77,205.32 458.81,205.68 458.85,207.28 458.88,205.08 458.92,207.58 458.95,209.14 458.99,205.88 459.03,206.90 459.06,208.70 459.10,207.07 459.13,207.32 459.17,207.90 459.21,210.50 459.24,209.06 459.28,210.82 459.31,210.53 459.35,210.70 459.38,211.28 459.42,209.82 459.46,211.65 459.49,210.10 459.53,210.87 459.56,212.05 459.60,211.28 459.64,210.83 459.67,210.45 459.71,212.40 459.74,210.09 459.78,211.73 459.82,211.06 459.85,214.49 459.89,214.30 459.92,211.63 459.96,213.59 460.00,212.89 460.03,212.13 460.07,215.59 460.10,213.38 460.14,211.67 460.17,213.24 460.21,214.27 460.25,213.82 460.28,214.66 460.32,213.84 460.35,213.31 460.39,215.36 460.43,214.49 460.46,214.95 460.50,214.53 460.53,214.54 460.57,217.04 460.61,214.37 460.64,214.86 460.68,217.42 460.71,216.52 460.75,218.10 460.78,216.75 460.82,216.08 460.86,218.04 460.89,217.67 460.93,217.90 460.96,217.77 461.00,217.97 461.04,218.43 461.07,216.48 461.11,217.56 461.14,218.41 461.18,216.24 461.22,218.26 461.25,216.53 461.29,219.28 461.32,216.06 461.36,218.46 461.40,219.16 461.43,217.55 461.47,219.81 461.50,219.57 461.54,218.00 461.57,218.97 461.61,217.95 461.65,218.34 461.68,218.28 461.72,218.50 461.75,217.85 461.79,218.80 461.83,217.49 461.86,217.76 461.90,221.46 461.93,221.26 461.97,217.19 462.01,219.75 462.04,219.03 462.08,219.47 462.11,219.04 462.15,216.69 462.19,220.39 462.22,219.48 462.26,219.61 462.29,221.03 462.33,220.82 462.36,220.13 462.40,219.87 462.44,219.42 462.47,222.40 462.51,221.96 462.54,218.00 462.58,220.33 462.62,219.13 462.65,220.73 462.69,221.14 462.72,217.67 462.76,221.89 462.80,221.54 462.83,219.61 462.87,220.48 462.90,222.59 462.94,220.42 462.97,219.73 463.01,222.58 463.05,221.42 463.08,219.79 463.12,218.43 463.15,223.73 463.19,221.76 463.23,220.91 463.26,222.12 463.30,222.15 463.33,221.69 463.37,220.46 463.41,222.47 463.44,220.10 463.48,220.19 463.51,220.20 463.55,219.39 463.59,221.99 463.62,221.44 463.66,220.17 463.69,219.87 463.73,220.32 463.76,222.08 463.80,222.17 463.84,223.23 463.87,222.17 463.91,222.78 463.94,222.31 463.98,222.21 464.02,220.74 464.05,220.74 464.09,221.90 464.12,223.29 464.16,221.97 464.20,221.40 464.23,220.91 464.27,221.74 464.30,221.03 464.34,222.88 464.37,221.29 464.41,221.21 464.45,222.60 464.48,223.13 464.52,220.69 464.55,223.49 464.59,221.43 464.63,222.65 464.66,222.78 464.70,222.69 464.73,222.95 464.77,222.48 464.81,220.25 464.84,220.69 464.88,222.69 464.91,221.97 464.95,221.45 464.99,223.14 465.02,220.35 465.06,222.62 465.09,221.92 465.13,223.91 465.16,224.14 465.20,224.02 465.24,223.61 465.27,221.55 465.31,223.25 465.34,221.79 465.38,223.43 465.42,224.13 465.45,222.76 465.49,223.49 465.52,225.08 465.56,222.99 465.60,221.61 465.63,223.36 465.67,224.61 465.70,224.09 465.74,224.68 465.78,223.50 465.81,224.40 465.85,223.39 465.88,223.06 465.92,221.66 465.95,224.76 465.99,225.90 466.03,221.36 466.06,222.87 466.10,223.88 466.13,222.83 466.17,224.63 466.21,223.92 466.24,222.69 466.28,223.94 466.31,223.41 466.35,223.06 466.39,223.47 466.42,223.95 466.46,223.03 466.49,222.05 466.53,222.14 466.56,224.83 466.60,222.82 466.64,226.15 466.67,225.57 466.71,223.34 466.74,223.19 466.78,222.19 466.82,226.04 466.85,222.59 466.89,224.63 466.92,224.55 466.96,223.45 467.00,222.28 467.03,225.21 467.07,226.19 467.10,224.83 467.14,224.26 467.18,222.65 467.21,223.70 467.25,224.55 467.28,224.83 467.32,224.80 467.35,223.04 467.39,226.33 467.43,225.15 467.46,225.39 467.50,222.94 467.53,224.20 467.57,225.21 467.61,223.47 467.64,222.00 467.68,223.18 467.71,226.08 467.75,224.74 467.79,223.10 467.82,226.77 467.86,226.07 467.89,225.09 467.93,223.95 467.96,225.63 468.00,224.45 468.04,224.86 468.07,224.28 468.11,226.19 468.14,227.47 468.18,227.41 468.22,224.56 468.25,223.58 468.29,224.21 468.32,226.82 468.36,227.01 468.40,225.23 468.43,226.03 468.47,227.19 468.50,225.66 468.54,225.94 468.58,225.12 468.61,224.53 468.65,224.79 468.68,224.81 468.72,224.41 468.75,225.21 468.79,225.66 468.83,225.55 468.86,223.68 468.90,225.51 468.93,224.18 468.97,223.15 469.01,223.07 469.04,227.90 469.08,225.08 469.11,224.07 469.15,225.87 469.19,226.20 469.22,227.11 469.26,226.20 469.29,225.39 469.33,227.74 469.37,225.44 469.40,226.48 469.44,225.44 469.47,226.83 469.51,225.40 469.54,225.32 469.58,226.40 469.62,226.39 469.65,224.41 469.69,224.82 469.72,226.59 469.76,225.10 469.80,227.09 469.83,226.32 469.87,228.55 469.90,226.42 469.94,224.89 469.98,226.36 470.01,225.05 470.05,226.59 470.08,225.44 470.12,226.02 470.15,227.06 470.19,223.28 470.23,226.93 470.26,227.57 470.30,225.77 470.33,225.36 470.37,225.54 470.41,226.12 470.44,225.43 470.48,224.87 470.51,225.27 470.55,227.77 470.59,223.94 470.62,226.13 470.66,228.65 470.69,225.10 470.73,226.33 470.77,225.82 470.80,223.73 470.84,226.87 470.87,227.00 470.91,227.46 470.94,226.03 470.98,225.46 471.02,225.81 471.05,226.11 471.09,228.97 471.12,226.02 471.16,225.03 471.20,227.02 471.23,227.07 471.27,227.68 471.30,226.14 471.34,228.39 471.38,224.11 471.41,226.74 471.45,227.26 471.48,228.04 471.52,225.88 471.55,225.36 471.59,227.28 471.63,226.39 471.66,226.26 471.70,225.44 471.73,225.89 471.77,225.14 471.81,228.44 471.84,223.89 471.88,227.34 471.91,228.13 471.95,227.91 471.99,226.30 472.02,225.84 472.06,224.00 472.09,225.31 472.13,227.79 472.17,227.29 472.20,227.46 472.24,227.64 472.27,227.13 472.31,227.69 472.34,225.50 472.38,226.55 472.42,226.21 472.45,227.20 472.49,228.45 472.52,226.49 472.56,227.54 472.60,224.61 472.63,225.56 472.67,228.60 472.70,228.34 472.74,227.82 472.78,227.42 472.81,225.76 472.85,227.41 472.88,226.64 472.92,227.62 472.96,227.51 472.99,225.73 473.03,227.25 473.06,224.85 473.10,227.36 473.13,226.84 473.17,226.85 473.21,226.53 473.24,224.98 473.28,228.23 473.31,228.06 473.35,228.59 473.39,225.20 473.42,226.87 473.46,226.91 473.49,226.92 473.53,229.79 473.57,226.56 473.60,227.37 473.64,227.17 473.67,227.46 473.71,227.69 473.74,227.69 473.78,228.32 473.82,227.91 473.85,226.87 473.89,230.28 473.92,226.66 473.96,226.90 474.00,229.03 474.03,227.10 474.07,227.36 474.10,228.40 474.14,225.69 474.18,227.57 474.21,227.97 474.25,229.44 474.28,225.15 474.32,227.59 474.36,227.48 474.39,228.17 474.43,225.34 474.46,228.11 474.50,225.99 474.53,226.64 474.57,226.76 474.61,227.20 474.64,226.57 474.68,228.16 474.71,230.60 474.75,230.90 474.79,226.68 474.82,230.62 474.86,226.43 474.89,225.30 474.93,230.46 474.97,227.38 475.00,227.57 475.04,229.05 475.07,230.64 475.11,228.31 475.14,226.12 475.18,228.37 475.22,228.25 475.25,228.16 475.29,228.22 475.32,227.93 475.36,225.50 475.40,229.41 475.43,230.59 475.47,227.31 475.50,229.01 475.54,229.01 475.58,230.13 475.61,228.63 475.65,228.96 475.68,227.91 475.72,228.95 475.76,230.28 475.79,227.88 475.83,228.61 475.86,230.86 475.90,228.96 475.93,227.61 475.97,228.64 476.01,228.98 476.04,227.86 476.08,229.40 476.11,229.49 476.15,227.99 476.19,228.85 476.22,229.44 476.26,228.40 476.29,228.38 476.33,227.56 476.37,227.48 476.40,228.63 476.44,228.79 476.47,229.92 476.51,228.54 476.55,229.24 476.58,227.78 476.62,227.84 476.65,228.05 476.69,228.93 476.72,228.46 476.76,227.03 476.80,226.80 476.83,229.64 476.87,231.79 476.90,228.18 476.94,230.85 476.98,228.91 477.01,228.42 477.05,227.15 477.08,229.23 477.12,229.17 477.16,229.75 477.19,228.69 477.23,230.58 477.26,228.39 477.30,228.68 477.33,227.45 477.37,229.50 477.41,228.74 477.44,228.91 477.48,229.19 477.51,230.37 477.55,229.89 477.59,229.15 477.62,228.62 477.66,227.96 477.69,229.99 477.73,228.94 477.77,228.52 477.80,228.23 477.84,229.00 477.87,229.06 477.91,229.76 477.95,229.31 477.98,229.60 478.02,231.51 478.05,230.26 478.09,232.27 478.12,228.79 478.16,228.34 478.20,229.89 478.23,229.24 478.27,229.27 478.30,229.79 478.34,227.68 478.38,229.74 478.41,229.12 478.45,229.61 478.48,227.08 478.52,231.58 478.56,229.32 478.59,231.23 478.63,230.48 478.66,230.79 478.70,228.68 478.73,230.98 478.77,230.90 478.81,230.08 478.84,230.86 478.88,230.92 478.91,227.76 478.95,230.54 478.99,230.72 479.02,228.05 479.06,229.65 479.09,228.40 479.13,231.79 479.17,230.16 479.20,229.22 479.24,229.56 479.27,229.17 479.31,228.32 479.35,229.14 479.38,228.52 479.42,228.97 479.45,230.83 479.49,229.68 479.52,228.32 479.56,231.11 479.60,229.29 479.63,229.19 479.67,228.33 479.70,232.05 479.74,227.21 479.78,231.93 479.81,230.03 479.85,227.25 479.88,231.72 479.92,227.30 479.96,229.74 479.99,227.73 480.03,228.32 480.06,229.93 480.10,231.10 480.14,230.53 480.17,231.76 480.21,231.87 480.24,229.71 480.28,231.98 480.31,229.76 480.35,230.31 480.39,230.40 480.42,231.53 480.46,231.79 480.49,229.29 480.53,231.47 480.57,231.01 480.60,230.53 480.64,229.48 480.67,227.89 480.71,227.92 480.75,229.38 480.78,229.54 480.82,229.57 480.85,230.66 480.89,230.66 480.92,232.56 480.96,229.75 481.00,231.06 481.03,229.99 481.07,227.70 481.10,229.42 481.14,229.07 481.18,229.42 481.21,231.21 481.25,231.34 481.28,232.35 481.32,231.27 481.36,230.37 481.39,229.72 481.43,229.88 481.46,231.03 481.50,232.02 481.54,230.57 481.57,230.26 481.61,233.10 481.64,230.55 481.68,232.45 481.71,231.25 481.75,230.88 481.79,231.93 481.82,231.36 481.86,230.73 481.89,231.99 481.93,229.92 481.97,229.97 482.00,230.11 482.04,232.10 482.07,231.05 482.11,231.23 482.15,230.70 482.18,229.92 482.22,231.51 482.25,230.84 482.29,229.87 482.32,231.30 482.36,230.02 482.40,230.95 482.43,232.68 482.47,230.99 482.50,230.78 482.54,231.48 482.58,228.61 482.61,231.47 482.65,232.81 482.68,231.21 482.72,231.30 482.76,230.41 482.79,228.25 482.83,230.89 482.86,230.06 482.90,231.97 482.94,232.26 482.97,231.98 483.01,231.36 483.04,231.68 483.08,231.15 483.11,231.95 483.15,232.65 483.19,232.14 483.22,230.23 483.26,232.62 483.29,230.25 483.33,229.20 483.37,232.38 483.40,230.14 483.44,230.22 483.47,234.13 483.51,230.22 483.55,230.49 483.58,232.27 483.62,229.13 483.65,233.53 483.69,229.73 483.73,231.02 483.76,232.63 483.80,231.24 483.83,233.27 483.87,230.64 483.90,230.73 483.94,229.90 483.98,229.68 484.01,232.29 484.05,230.83 484.08,232.22 484.12,234.32 484.16,230.30 484.19,230.04 484.23,231.23 484.26,229.36 484.30,231.60 484.34,233.68 484.37,232.12 484.41,231.89 484.44,231.23 484.48,232.08 484.51,234.36 484.55,233.13 484.59,231.80 484.62,230.23 484.66,232.46 484.69,233.26 484.73,232.25 484.77,230.53 484.80,230.13 484.84,232.90 484.87,230.86 484.91,230.07 484.95,230.73 484.98,233.10 485.02,230.99 485.05,232.37 485.09,232.39 485.13,229.38 485.16,231.83 485.20,231.17 485.23,230.29 485.27,229.78 485.30,231.48 485.34,232.59 485.38,231.91 485.41,232.69 485.45,232.01 485.48,232.02 485.52,233.73 485.56,232.87 485.59,233.67 485.63,231.99 485.66,230.93 485.70,231.03 485.74,231.72 485.77,233.15 485.81,232.05 485.84,233.67 485.88,231.28 485.91,233.91 485.95,232.80 485.99,229.88 486.02,231.51 486.06,233.25 486.09,232.32 486.13,233.33 486.17,233.06 486.20,232.60 486.24,233.14 486.27,231.87 486.31,230.78 486.35,233.19 486.38,233.29 486.42,233.15 486.45,232.92 486.49,232.01 486.53,233.00 486.56,233.27 486.60,233.03 486.63,230.98 486.67,231.01 486.70,230.93 486.74,232.00 486.78,233.42 486.81,230.55 486.85,229.51 486.88,233.08 486.92,233.04 486.96,230.94 486.99,231.45 487.03,231.82 487.06,229.73 487.10,232.55 487.14,233.33 487.17,232.80 487.21,232.08 487.24,232.13 487.28,230.83 487.31,231.43 487.35,233.29 487.39,231.49 487.42,232.65 487.46,230.55 487.49,231.02 487.53,233.18 487.57,231.77 487.60,234.08 487.64,231.90 487.67,232.39 487.71,231.93 487.75,234.00 487.78,233.57 487.82,233.21 487.85,232.82 487.89,231.71 487.93,233.57 487.96,235.06 488.00,233.26 488.03,231.62 488.07,231.52 488.10,234.18 488.14,231.81 488.18,232.49 488.21,231.73 488.25,232.42 488.28,231.09 488.32,233.55 488.36,229.98 488.39,231.31 488.43,234.14 488.46,234.63 488.50,231.43 488.54,234.66 488.57,233.70 488.61,232.14 488.64,232.93 488.68,232.57 488.72,235.44 488.75,233.71 488.79,232.15 488.82,230.21 488.86,232.28 488.89,232.77 488.93,232.67 488.97,231.57 489.00,232.05 489.04,233.95 489.07,235.31 489.11,233.16 489.15,233.37 489.18,230.61 489.22,233.96 489.25,231.97 489.29,235.40 489.33,231.96 489.36,234.54 489.40,232.91 489.43,233.21 489.47,232.84 489.50,232.97 489.54,234.41 489.58,232.26 489.61,234.12 489.65,233.07 489.68,234.09 489.72,233.07 489.76,233.19 489.79,233.30 489.83,234.05 489.86,231.56 489.90,233.30 489.94,233.00 489.97,235.83 490.01,232.37 490.04,235.08 490.08,233.39 490.12,235.69 490.15,230.79 490.19,235.36 490.22,233.50 490.26,234.74 490.29,234.77 490.33,235.38 490.37,231.39 490.40,230.54 490.44,233.39 490.47,232.21 490.51,233.85 490.55,234.60 490.58,231.00 490.62,232.47 490.65,234.71 490.69,233.43 490.73,233.33 490.76,233.67 490.80,233.43 490.83,234.15 490.87,233.44 490.90,233.87 490.94,233.76 490.98,234.31 491.01,231.45 491.05,233.91 491.08,233.66 491.12,233.09 491.16,233.38 491.19,235.04 491.23,232.35 491.26,234.96 491.30,234.27 491.34,232.94 491.37,233.73 491.41,234.36 491.44,233.47 491.48,234.56 491.52,234.25 491.55,234.98 491.59,235.07 491.62,234.76 491.66,233.49 491.69,234.19 491.73,233.75 491.77,232.45 491.80,234.15 491.84,235.89 491.87,233.50 491.91,231.39 491.95,236.37 491.98,233.94 492.02,235.03 492.05,235.51 492.09,232.65 492.13,233.71 492.16,233.71 492.20,235.29 492.23,234.31 492.27,235.08 492.31,231.81 492.34,233.76 492.38,236.21 492.41,234.12 492.45,231.89 492.48,234.71 492.52,234.09 492.56,233.83 492.59,233.17 492.63,233.18 492.66,234.55 492.70,234.25 492.74,232.93 492.77,235.08 492.81,234.23 492.84,233.40 492.88,234.12 492.92,235.05 492.95,231.80 492.99,233.64 493.02,234.21 493.06,236.61 493.09,232.50 493.13,232.72 493.17,233.94 493.20,233.85 493.24,234.93 493.27,231.40 493.31,232.79 493.35,231.12 493.38,231.12 493.42,236.17 493.45,233.14 493.49,236.51 493.53,233.49 493.56,233.91 493.60,234.66 493.63,233.15 493.67,233.80 493.71,234.39 493.74,234.30 493.78,232.85 493.81,233.40 493.85,232.95 493.88,233.61 493.92,234.57 493.96,234.62 493.99,233.73 494.03,234.92 494.06,234.83 494.10,233.05 494.14,233.78 494.17,234.33 494.21,233.82 494.24,234.54 494.28,232.49 494.32,234.33 494.35,234.05 494.39,235.55 494.42,234.97 494.46,235.73 494.49,233.59 494.53,233.44 494.57,233.36 494.60,234.57 494.64,234.09 494.67,233.71 494.71,234.62 494.75,236.26 494.78,231.74 494.82,233.57 494.85,233.06 494.89,233.20 494.93,235.11 494.96,234.26 495.00,234.83 495.03,232.90 495.07,234.00 495.11,235.13 495.14,233.84 495.18,231.39 495.21,234.28 495.25,233.66 495.28,231.67 495.32,235.42 495.36,233.91 495.39,232.78 495.43,233.50 495.46,235.05 495.50,234.34 495.54,234.19 495.57,233.13 495.61,233.07 495.64,236.78 495.68,234.26 495.72,235.25 495.75,234.00 495.79,234.87 495.82,233.92 495.86,236.24 495.90,234.12 495.93,233.71 495.97,232.87 496.00,232.46 496.04,234.41 496.07,235.13 496.11,232.77 496.15,233.95 496.18,234.03 496.22,233.72 496.25,236.24 496.29,235.56 496.33,235.56 496.36,235.84 496.40,232.55 496.43,236.76 496.47,234.69 496.51,234.58 496.54,235.59 496.58,234.03 496.61,235.55 496.65,236.28 496.68,236.10 496.72,232.86 496.76,235.03 496.79,234.30 496.83,233.84 496.86,234.03 496.90,235.48 496.94,233.56 496.97,233.27 497.01,236.33 497.04,233.57 497.08,233.95 497.12,233.25 497.15,233.86 497.19,234.81 497.22,235.56 497.26,233.82 497.30,234.15 497.33,234.12 497.37,235.25 497.40,233.20 497.44,233.50 497.47,233.32 497.51,235.40 497.55,233.92 497.58,233.47 497.62,236.32 497.65,235.59 497.69,234.37 497.73,236.49 497.76,234.81 497.80,234.59 497.83,236.54 497.87,233.99 497.91,234.72 497.94,233.18 497.98,234.78 498.01,235.36 498.05,234.81 498.08,234.23 498.12,237.02 498.16,235.14 498.19,233.86 498.23,233.84 498.26,234.32 498.30,236.14 498.34,234.91 498.37,234.25 498.41,234.79 498.44,234.61 498.48,232.50 498.52,232.43 498.55,235.39 498.59,236.02 498.62,234.81 498.66,233.21 498.70,236.14 498.73,236.04 498.77,236.41 498.80,233.49 498.84,235.47 498.87,234.97 498.91,232.89 498.95,234.11 498.98,235.29 499.02,236.50 499.05,233.54 499.09,234.81 499.13,235.32 499.16,234.62 499.20,235.82 499.23,234.69 499.27,234.69 499.31,236.29 499.34,234.65 499.38,234.22 499.41,233.19 499.45,233.88 499.49,232.39 499.52,233.89 499.56,235.02 499.59,234.55 499.63,234.96 499.66,236.16 499.70,235.29 499.74,234.82 499.77,236.30 499.81,235.09 499.84,234.33 499.88,232.96 499.92,235.18 499.95,235.45 499.99,235.88 500.02,237.04 500.06,234.37 500.10,235.71 500.13,235.91 500.17,236.45 500.20,233.29 500.24,233.44 500.27,234.53 500.31,235.54 500.35,236.58 500.38,237.81 500.42,236.07 500.45,236.09 500.49,233.32 500.53,235.52 500.56,237.18 500.60,233.45 500.63,234.41 500.67,235.66 500.71,234.74 500.74,234.39 500.78,235.75 500.81,236.26 500.85,235.00 500.89,234.45 500.92,234.57 500.96,236.58 500.99,236.40 501.03,235.26 501.06,235.97 501.10,235.61 501.14,232.96 501.17,237.28 501.21,235.59 501.24,236.54 501.28,234.98 501.32,232.97 501.35,234.81 501.39,233.68 501.42,236.42 501.46,234.95 501.50,233.62 501.53,235.76 501.57,236.25 501.60,237.20 501.64,233.53 501.67,235.49 501.71,233.66 501.75,235.11 501.78,235.29 501.82,234.36 501.85,235.10 501.89,233.92 501.93,236.09 501.96,236.09 502.00,235.33 502.03,236.02 502.07,235.64 502.11,234.40 502.14,234.97 502.18,235.53 502.21,233.27 502.25,237.07 502.29,236.14 502.32,235.67 502.36,234.24 502.39,234.69 502.43,234.80 502.46,233.63 502.50,235.56 502.54,236.39 502.57,233.99 502.61,233.58 502.64,236.70 502.68,236.22 502.72,235.62 502.75,235.07 502.79,235.37 502.82,234.60 502.86,237.48 502.90,236.14 502.93,237.43 502.97,234.51 503.00,234.29 503.04,235.24 503.08,235.54 503.11,235.68 503.15,235.68 503.18,236.56 503.22,234.98 503.25,234.80 503.29,236.43 503.33,235.08 503.36,233.81 503.40,233.66 503.43,232.78 503.47,232.79 503.51,237.41 503.54,236.21 503.58,236.16 503.61,235.04 503.65,233.77 503.69,237.45 503.72,234.93 503.76,235.25 503.79,234.11 503.83,235.05 503.86,236.48 503.90,235.33 503.94,236.28 503.97,235.87 504.01,236.01 504.04,235.68 504.08,235.23 504.12,235.21 504.15,234.28 504.19,234.86 504.22,237.83 504.26,234.93 504.30,236.22 504.33,234.53 504.37,236.25 504.40,236.75 504.44,237.47 504.48,235.90 504.51,234.77 504.55,236.81 504.58,235.33 504.62,236.11 504.65,238.25 504.69,236.00 504.73,236.13 504.76,235.18 504.80,237.83 504.83,235.01 504.87,235.90 504.91,234.68 504.94,236.33 504.98,236.61 505.01,236.12 505.05,235.85 505.09,234.55 505.12,236.73 505.16,236.22 505.19,237.09 505.23,236.29 505.26,235.52 505.30,234.12 505.34,236.02 505.37,235.58 505.41,235.82 505.44,234.60 505.48,236.24 505.52,236.21 505.55,235.52 505.59,236.23 505.62,235.63 505.66,236.02 505.70,236.32 505.73,234.88 505.77,236.18 505.80,236.41 505.84,235.33 505.88,233.72 505.91,235.59 505.95,236.16 505.98,235.04 506.02,235.31 506.05,237.18 506.09,234.55 506.13,234.34 506.16,236.61 506.20,236.42 506.23,235.23 506.27,235.57 506.31,235.82 506.34,234.40 506.38,237.90 506.41,236.62 506.45,235.38 506.49,235.44 506.52,236.71 506.56,238.18 506.59,234.59 506.63,234.90 506.67,235.87 506.70,235.63 506.74,234.78 506.77,233.23 506.81,237.31 506.84,236.02 506.88,238.48 506.92,237.53 506.95,234.67 506.99,236.43 507.02,238.76 507.06,237.69 507.10,234.29 507.13,235.50 507.17,234.59 507.20,234.18 507.24,236.78 507.28,236.09 507.31,236.91 507.35,237.24 507.38,235.00 507.42,235.83 507.45,237.01 507.49,238.14 507.53,236.67 507.56,236.52 507.60,237.05 507.63,235.22 507.67,235.49 507.71,235.63 507.74,234.69 507.78,236.57 507.81,236.26 507.85,233.66 507.89,237.27 507.92,235.86 507.96,235.28 507.99,235.91 508.03,236.30 508.07,235.59 508.10,235.23 508.14,235.99 508.17,236.59 508.21,238.29 508.24,236.62 508.28,237.18 508.32,237.21 508.35,237.40 508.39,237.85 508.42,237.24 508.46,236.17 508.50,237.79 508.53,237.93 508.57,234.83 508.60,235.27 508.64,236.93 508.68,235.94 508.71,236.52 508.75,235.89 508.78,235.60 508.82,237.73 508.85,238.61 508.89,235.34 508.93,235.74 508.96,237.43 509.00,234.72 509.03,235.99 509.07,236.16 509.11,234.66 509.14,234.55 509.18,235.06 509.21,235.89 509.25,236.99 509.29,236.13 509.32,236.87 509.36,235.39 509.39,235.13 509.43,236.29 509.47,235.15 509.50,237.82 509.54,234.87 509.57,235.99 509.61,238.95 509.64,236.34 509.68,235.45 509.72,235.80 509.75,237.51 509.79,235.32 509.82,235.46 509.86,236.30 509.90,234.68 509.93,237.05 509.97,236.03 510.00,236.42 510.04,239.06 510.08,235.96 510.11,235.76 510.15,237.20 510.18,236.47 510.22,235.18 510.26,236.79 510.29,235.74 510.33,236.11 510.36,236.30 510.40,235.57 510.43,238.48 510.47,238.10 510.51,237.75 510.54,235.56 510.58,235.12 510.61,236.90 510.65,238.34 510.69,234.80 510.72,237.09 510.76,237.69 510.79,236.16 510.83,237.40 510.87,235.81 510.90,236.01 510.94,237.75 510.97,234.43 511.01,236.57 511.04,236.08 511.08,234.84 511.12,235.16 511.15,239.40 511.19,236.61 511.22,236.93 511.26,235.99 511.30,235.73 511.33,234.71 511.37,238.98 511.40,236.66 511.44,235.24 511.48,237.06 511.51,234.58 511.55,235.31 511.58,235.42 511.62,237.71 511.66,238.74 511.69,237.06 511.73,236.79 511.76,236.44 511.80,235.30 511.83,237.02 511.87,238.01 511.91,234.47 511.94,235.55 511.98,237.40 512.01,236.90 512.05,239.50 512.09,238.13 512.12,236.83 512.16,236.06 512.19,236.93 512.23,236.93 512.27,237.49 512.30,237.66 512.34,234.76 512.37,234.25 512.41,235.42 512.44,237.27 512.48,239.49 512.52,235.76 512.55,238.09 512.59,237.18 512.62,236.40 512.66,234.89 512.70,237.86 512.73,237.17 512.77,235.81 512.80,235.66 512.84,236.98 512.88,236.33 512.91,235.96 512.95,237.35 512.98,238.94 513.02,236.97 513.06,234.91 513.09,238.26 513.13,237.84 513.16,235.65 513.20,234.94 513.23,236.32 513.27,236.44 513.31,238.94 513.34,238.39 513.38,237.70 513.41,239.06 513.45,235.67 513.49,238.26 513.52,233.98 513.56,238.33 513.59,236.46 513.63,237.42 513.67,237.14 513.70,235.52 513.74,238.16 513.77,237.24 513.81,235.47 513.85,237.97 513.88,234.02 513.92,238.59 513.95,235.87 513.99,236.59 514.02,236.29 514.06,236.92 514.10,237.43 514.13,236.35 514.17,237.57 514.20,238.06 514.24,234.71 514.28,239.27 514.31,236.09 514.35,237.60 514.38,239.43 514.42,239.73 514.46,238.08 514.49,236.28 514.53,235.30 514.56,237.01 514.60,235.33 514.63,236.81 514.67,236.69 514.71,236.68 514.74,235.43 514.78,238.37 514.81,239.30 514.85,235.27 514.89,236.87 514.92,236.56 514.96,235.61 514.99,236.45 515.03,237.04 515.07,235.13 515.10,235.58 515.14,237.23 515.17,236.66 515.21,237.50 515.25,237.12 515.28,237.81 515.32,236.02 515.35,238.20 515.39,237.77 515.42,236.04 515.46,236.74 515.50,235.03 515.53,237.68 515.57,236.94 515.60,237.22 515.64,235.82 515.68,237.15 515.71,236.30 515.75,238.88 515.78,237.63 515.82,235.14 515.86,236.98 515.89,236.57 515.93,235.65 515.96,236.67 516.00,238.00 516.03,236.76 516.07,237.50 516.11,237.08 516.14,236.98 516.18,235.99 516.21,235.48 516.25,235.17 516.29,238.03 516.32,236.74 516.36,235.42 516.39,237.74 516.43,237.82 516.47,234.82 516.50,236.11 516.54,236.07 516.57,237.57 516.61,235.35 516.65,235.74 516.68,236.96 516.72,236.73 516.75,236.28 516.79,237.16 516.82,236.99 516.86,235.31 516.90,237.45 516.93,238.88 516.97,235.80 517.00,234.84 517.04,237.70 517.08,236.51 517.11,236.92 517.15,238.01 517.18,238.00 517.22,236.70 517.26,239.21 517.29,236.82 517.33,234.32 517.36,234.33 517.40,239.57 517.44,237.21 517.47,238.31 517.51,236.81 517.54,237.61 517.58,237.37 517.61,236.98 517.65,236.59 517.69,236.76 517.72,236.32 517.76,235.87 517.79,234.75 517.83,236.28 517.87,236.93 517.90,235.69 517.94,236.54 517.97,236.03 518.01,238.25 518.05,238.87 518.08,235.83 518.12,238.82 518.15,238.36 518.19,237.38 518.22,238.18 518.26,236.29 518.30,236.78 518.33,236.71 518.37,235.27 518.40,236.99 518.44,237.62 518.48,238.61 518.51,237.98 518.55,238.12 518.58,236.95 518.62,235.04 518.66,237.34 518.69,236.99 518.73,239.57 518.76,234.96 518.80,238.46 518.84,236.91 518.87,239.09 518.91,236.21 518.94,237.09 518.98,238.36 519.01,235.43 519.05,235.33 519.09,236.91 519.12,237.81 519.16,237.03 519.19,238.01 519.23,236.62 519.27,237.77 519.30,238.16 519.34,237.24 519.37,235.06 519.41,239.03 519.45,236.05 519.48,236.54 519.52,236.42 519.55,236.91 519.59,236.50 519.62,239.84 519.66,237.42 519.70,239.87 519.73,237.41 519.77,237.59 519.80,236.97 519.84,236.82 519.88,238.24 519.91,237.86 519.95,235.56 519.98,235.84 520.02,237.40 520.06,238.27 520.09,237.45 520.13,236.31 520.16,236.91 520.20,237.02 520.24,235.88 520.27,236.74 520.31,236.69 520.34,237.44 520.38,237.12 520.41,237.06 520.45,238.52 520.49,237.94 520.52,239.34 520.56,237.70 520.59,238.89 520.63,236.86 520.67,235.82 520.70,237.93 520.74,236.59 520.77,236.16 520.81,239.66 520.85,235.85 520.88,239.61 520.92,239.26 520.95,238.93 520.99,239.29 521.03,239.33 521.06,237.18 521.10,236.71 521.13,236.42 521.17,236.77 521.20,235.86 521.24,237.63 521.28,237.85 521.31,235.74 521.35,238.19 521.38,235.95 521.42,237.72 521.46,239.43 521.49,238.57 521.53,238.14 521.56,237.25 521.60,237.01 521.64,236.55 521.67,236.81 521.71,236.08 521.74,239.55 521.78,236.83 521.81,235.62 521.85,238.32 521.89,236.63 521.92,236.18 521.96,238.48 521.99,240.12 522.03,238.45 522.07,237.77 522.10,236.51 522.14,236.75 522.17,236.86 522.21,237.64 522.25,237.97 522.28,238.26 522.32,237.55 522.35,237.94 522.39,237.56 522.43,238.32 522.46,238.72 522.50,236.95 522.53,238.24 522.57,236.58 522.60,236.25 522.64,238.75 522.68,234.78 522.71,239.05 522.75,239.51 522.78,239.09 522.82,238.73 522.86,237.58 522.89,236.08 522.93,237.14 522.96,235.80 523.00,240.22 523.04,236.68 523.07,239.23 523.11,238.74 523.14,234.78 523.18,235.38 523.21,237.47 523.25,238.54 523.29,238.37 523.32,239.35 523.36,238.16 523.39,236.75 523.43,237.05 523.47,237.29 523.50,238.17 523.54,236.80 523.57,236.87 523.61,235.19 523.65,237.28 523.68,236.45 523.72,236.65 523.75,236.82 523.79,236.89 523.83,237.31 523.86,236.61 523.90,238.93 523.93,238.71 523.97,238.73 524.00,238.24 524.04,238.08 524.08,236.12 524.11,237.25 524.15,237.63 524.18,237.44 524.22,236.61 524.26,239.01 524.29,237.62 524.33,238.70 524.36,236.92 524.40,235.69 524.44,237.28 524.47,236.73 524.51,235.95 524.54,238.27 524.58,237.18 524.62,239.94 524.65,237.22 524.69,237.31 524.72,237.74 524.76,234.97 524.79,237.22 524.83,238.06 524.87,238.11 524.90,237.78 524.94,239.97 524.97,237.29 525.01,238.63 525.05,237.40 525.08,236.90 525.12,235.73 525.15,238.02 525.19,237.76 525.23,237.60 525.26,237.21 525.30,238.40 525.33,237.53 525.37,238.30 525.40,237.33 525.44,235.71 525.48,237.76 525.51,235.86 525.55,237.25 525.58,236.04 525.62,236.40 525.66,239.65 525.69,238.65 525.73,239.67 525.76,237.13 525.80,239.06 525.84,236.48 525.87,237.85 525.91,237.10 525.94,238.88 525.98,240.46 526.02,238.44 526.05,238.36 526.09,237.57 526.12,236.95 526.16,238.94 526.19,237.39 526.23,238.42 526.27,236.24 526.30,238.59 526.34,237.52 526.37,236.29 526.41,236.90 526.45,236.76 526.48,236.41 526.52,236.86 526.55,237.01 526.59,238.81 526.63,235.59 526.66,236.35 526.70,235.69 526.73,238.19 526.77,237.05 526.80,240.39 526.84,237.69 526.88,238.52 526.91,238.17 526.95,237.07 526.98,238.15 527.02,237.14 527.06,239.78 527.09,235.01 527.13,238.81 527.16,238.98 527.20,239.31 527.24,236.73 527.27,240.19 527.31,238.84 527.34,235.80 527.38,239.41 527.42,238.59 527.45,239.01 527.49,236.63 527.52,238.69 527.56,237.50 527.59,238.56 527.63,238.46 527.67,240.17 527.70,237.11 527.74,238.01 527.77,238.40 527.81,237.35 527.85,238.02 527.88,237.83 527.92,237.57 527.95,237.23 527.99,238.71 528.03,236.89 528.06,237.37 528.10,238.60 528.13,238.73 528.17,236.74 528.21,237.74 528.24,239.28 528.28,239.52 528.31,235.31 528.35,239.19 528.38,238.82 528.42,238.13 528.46,239.24 528.49,235.69 528.53,239.00 528.56,239.10 528.60,237.60 528.64,239.11 528.67,239.23 528.71,236.97 528.74,236.70 528.78,236.07 528.82,237.85 528.85,238.96 528.89,238.50 528.92,238.95 528.96,237.80 528.99,237.70 529.03,238.44 529.07,236.93 529.10,237.17 529.14,239.38 529.17,236.12 529.21,238.77 529.25,238.22 529.28,236.67 529.32,237.32 529.35,238.62 529.39,237.57 529.43,237.25 529.46,239.06 529.50,240.80 529.53,236.19 529.57,239.71 529.61,238.30 529.64,235.15 529.68,238.63 529.71,237.07 529.75,239.25 529.78,235.56 529.82,239.04 529.86,236.01 529.89,237.92 529.93,235.95 529.96,236.73 530.00,238.60 530.04,238.88 530.07,240.15 530.11,237.82 530.14,236.26 530.18,238.15 530.22,237.56 530.25,236.64 530.29,237.27 530.32,237.01 530.36,237.18 530.39,238.76 530.43,238.97 530.47,237.96 530.50,238.86 530.54,237.80 530.57,239.92 530.61,237.66 530.65,236.73 530.68,236.24 530.72,237.95 530.75,237.11 530.79,235.20 530.83,236.41 530.86,237.53 530.90,239.11 530.93,237.36 530.97,237.52 531.01,239.25 531.04,238.89 531.08,240.34 531.11,236.73 531.15,239.63 531.18,235.31 531.22,238.37 531.26,238.68 531.29,237.86 531.33,237.55 531.36,237.58 531.40,238.83 531.44,239.38 531.47,238.80 531.51,238.02 531.54,238.87 531.58,237.49 531.62,236.74 531.65,237.57 531.69,237.76 531.72,237.01 531.76,239.24 531.80,237.58 531.83,237.64 531.87,236.08 531.90,236.46 531.94,238.57 531.97,235.77 532.01,239.31 532.05,236.17 532.08,237.76 532.12,237.12 532.15,238.19 532.19,238.31 532.23,239.69 532.26,236.65 532.30,238.34 532.33,237.14 532.37,239.08 532.41,236.70 532.44,237.60 532.48,238.47 532.51,237.83 532.55,238.40 532.58,237.37 532.62,235.99 532.66,239.64 532.69,240.75 532.73,238.78 532.76,239.60 532.80,237.07 532.84,239.50 532.87,240.97 532.91,238.46 532.94,239.09 532.98,240.32 533.02,238.56 533.05,237.94 533.09,239.06 533.12,236.70 533.16,238.63 533.20,236.94 533.23,240.93 533.27,237.79 533.30,238.81 533.34,238.71 533.37,237.98 533.41,238.04 533.45,237.60 533.48,238.15 533.52,237.60 533.55,238.72 533.59,241.00 533.63,238.63 533.66,240.54 533.70,239.15 533.73,239.24 533.77,238.47 533.81,238.07 533.84,238.17 533.88,238.85 533.91,237.44 533.95,238.80 533.98,239.89 534.02,237.84 534.06,239.45 534.09,237.77 534.13,235.94 534.16,238.23 534.20,237.22 534.24,236.65 534.27,238.27 534.31,239.23 534.34,237.02 534.38,237.20 534.42,239.20 534.45,237.34 534.49,238.50 534.52,238.66 534.56,240.28 534.60,239.41 534.63,237.62 534.67,240.08 534.70,237.73 534.74,237.26 534.77,239.90 534.81,235.39 534.85,237.27 534.88,239.49 534.92,237.98 534.95,236.32 534.99,235.40 535.03,239.66 535.06,237.46 535.10,238.76 535.13,236.32 535.17,238.46 535.21,238.02 535.24,238.91 535.28,235.81 535.31,239.32 535.35,239.04 535.39,239.94 535.42,239.28 535.46,238.71 535.49,237.50 535.53,240.09 535.56,238.75 535.60,239.83 535.64,237.74 535.67,239.50 535.71,238.00 535.74,240.19 535.78,237.15 535.82,238.91 535.85,237.44 535.89,238.53 535.92,239.73 535.96,238.44 536.00,236.53 536.03,238.85 536.07,238.60 536.10,237.60 536.14,239.48 536.17,238.18 536.21,238.89 536.25,237.23 536.28,239.64 536.32,239.58 536.35,237.82 536.39,237.92 536.43,238.40 536.46,239.65 536.50,237.98 536.53,238.99 536.57,236.95 536.61,239.76 536.64,240.33 536.68,240.33 536.71,237.48 536.75,236.87 536.79,237.62 536.82,238.35 536.86,238.31 536.89,236.28 536.93,238.37 536.96,236.27 537.00,237.71 537.04,238.31 537.07,239.09 537.11,239.01 537.14,238.33 537.18,240.14 537.22,238.66 537.25,238.46 537.29,238.82 537.32,238.01 537.36,239.30 537.40,237.91 537.43,238.07 537.47,237.37 537.50,237.45 537.54,238.65 537.57,238.05 537.61,238.85 537.65,239.13 537.68,239.35 537.72,238.95 537.75,237.91 537.79,238.72 537.83,239.30 537.86,239.25 537.90,237.70 537.93,239.19 537.97,238.43 538.01,237.35 538.04,236.34 538.08,239.84 538.11,239.92 538.15,238.48 538.19,239.38 538.22,236.86 538.26,238.84 538.29,236.65 538.33,238.35 538.36,238.34 538.40,238.73 538.44,238.86 538.47,239.47 538.51,237.77 538.54,237.06 538.58,238.57 538.62,240.65 538.65,237.13 538.69,238.95 538.72,236.93 538.76,237.05 538.80,239.79 538.83,237.36 538.87,239.69 538.90,238.91 538.94,239.71 538.98,239.80 539.01,236.89 539.05,238.95 539.08,239.57 539.12,237.22 539.15,237.27 539.19,238.54 539.23,237.93 539.26,238.36 539.30,237.01 539.33,241.23 539.37,239.04 539.41,238.22 539.44,238.60 539.48,236.98 539.51,238.36 539.55,240.10 539.59,236.52 539.62,241.24 539.66,238.91 539.69,237.36 539.73,235.58 539.76,237.02 539.80,237.32 539.84,238.96 539.87,236.36 539.91,239.22 539.94,238.21 539.98,240.46 540.02,238.98 540.05,239.89 540.09,238.47 540.12,237.14 540.16,239.23 540.20,236.90 540.23,238.40 540.27,235.98 540.30,238.85 540.34,238.01 540.38,241.27 540.41,237.74 540.45,239.18 540.48,239.28 540.52,238.05 540.55,238.26 540.59,236.55 540.63,236.83 540.66,239.87 540.70,239.41 540.73,237.19 540.77,238.24 540.81,238.49 540.84,236.28 540.88,239.18 540.91,237.90 540.95,238.11 540.99,238.48 541.02,236.91 541.06,237.41 541.09,237.60 541.13,239.14 541.16,238.73 541.20,237.75 541.24,240.20 541.27,238.02 541.31,238.62 541.34,238.40 541.38,239.13 541.42,236.83 541.45,239.04 541.49,236.66 541.52,237.19 541.56,238.79 541.60,238.21 541.63,238.50 541.67,238.53 541.70,238.01 541.74,238.08 541.78,239.58 541.81,238.70 541.85,237.65 541.88,238.50 541.92,238.64 541.95,238.64 541.99,238.98 542.03,236.93 542.06,239.21 542.10,238.84 542.13,238.43 542.17,237.22 542.21,238.39 542.24,238.72 542.28,240.34 542.31,239.42 542.35,238.78 542.39,238.37 542.42,240.23 542.46,237.98 542.49,240.94 542.53,237.86 542.57,238.98 542.60,239.31 542.64,240.57 542.67,239.39 542.71,239.61 542.74,239.00 542.78,238.64 542.82,239.40 542.85,240.57 542.89,237.74 542.92,239.36 542.96,237.47 543.00,239.28 543.03,237.50 543.07,240.57 543.10,240.13 543.14,237.71 543.18,240.84 543.21,239.47 543.25,237.85 543.28,238.48 543.32,236.15 543.35,238.56 543.39,236.71 543.43,238.55 543.46,236.48 543.50,238.61 543.53,237.65 543.57,236.79 543.61,235.86 543.64,239.88 543.68,240.53 543.71,240.43 543.75,238.36 543.79,238.80 543.82,237.75 543.86,235.72 543.89,237.43 543.93,238.70 543.97,236.53 544.00,237.83 544.04,241.38 544.07,237.34 544.11,238.24 544.14,239.07 544.18,239.99 544.22,238.90 544.25,235.83 544.29,238.39 544.32,239.67 544.36,237.97 544.40,240.21 544.43,237.25 544.47,237.77 544.50,238.79 544.54,237.69 544.58,239.90 544.61,238.93 544.65,238.64 544.68,238.39 544.72,236.03 544.75,237.83 544.79,239.85 544.83,238.73 544.86,239.44 544.90,237.95 544.93,240.61 544.97,237.36 545.01,239.33 545.04,237.50 545.08,236.93 545.11,237.35 545.15,240.16 545.19,239.17 545.22,240.72 545.26,239.04 545.29,239.01 545.33,237.26 545.37,238.51 545.40,238.06 545.44,239.50 545.47,239.72 545.51,238.91 545.54,239.56 545.58,239.27 545.62,239.13 545.65,237.17 545.69,239.00 545.72,235.77 545.76,237.49 545.80,239.05 545.83,238.20 545.87,236.55 545.90,240.61 545.94,237.53 545.98,236.48 546.01,238.27 546.05,240.39 546.08,240.36 546.12,238.07 546.16,238.45 546.19,237.30 546.23,240.40 546.26,238.48 546.30,236.92 546.33,237.92 546.37,239.79 546.41,238.87 546.44,239.08 546.48,236.02 546.51,236.53 546.55,239.02 546.59,238.77 546.62,238.43 546.66,238.14 546.69,238.79 546.73,239.13 546.77,239.47 546.80,237.77 546.84,237.59 546.87,238.81 546.91,238.76 546.94,237.20 546.98,238.28 547.02,241.47 547.05,239.03 547.09,238.85 547.12,238.38 547.16,239.07 547.20,239.66 547.23,238.20 547.27,238.08 547.30,239.77 547.34,238.74 547.38,238.62 547.41,239.01 547.45,235.82 547.48,238.24 547.52,238.55 547.56,239.75 547.59,239.81 547.63,238.45 547.66,237.97 547.70,239.31 547.73,239.17 547.77,239.09 547.81,237.94 547.84,237.39 547.88,240.48 547.91,237.89 547.95,239.74 547.99,239.79 548.02,237.77 548.06,237.49 548.09,235.83 548.13,238.36 548.17,236.43 548.20,238.99 548.24,239.28 548.27,237.47 548.31,240.02 548.34,238.47 548.38,237.73 548.42,240.67 548.45,238.32 548.49,237.71 548.52,241.21 548.56,239.71 548.60,238.08 548.63,239.45 548.67,239.84 548.70,240.87 548.74,236.62 548.78,238.30 548.81,239.07 548.85,238.76 548.88,238.38 548.92,238.79 548.96,238.30 548.99,237.55" fill="none" stroke="#000080" stroke-width="0.85" stroke-linejoin="round"/>
<path d="M450.4,176.1 H549.0 V314.0" fill="none" stroke="#222" stroke-width="0.7"/>
<path d="M450.4,175.79999999999998 V314.0 H549.0" fill="none" stroke="#000" stroke-width="1.2"/>
<path d="M447.6,246.4 l5.6,-3.0 l0,-1.2 l-5.6,3.0 Z" fill="#fff" stroke="none"/>
<path d="M447.6,245.0 l5.6,-3.0 M447.6,247.4 l5.6,-3.0" stroke="#111" stroke-width="1" fill="none"/>
<path d="M546.2,246.4 l5.6,-3.0 l0,-1.2 l-5.6,3.0 Z" fill="#fff" stroke="none"/>
<path d="M546.2,245.0 l5.6,-3.0 M546.2,247.4 l5.6,-3.0" stroke="#111" stroke-width="1" fill="none"/>
<text x="447.3" y="240.0" font-size="7.5" text-anchor="end" fill="#111">2.6</text>
<text x="447.3" y="228.2" font-size="7.5" text-anchor="end" fill="#111">2.7</text>
<text x="447.3" y="216.4" font-size="7.5" text-anchor="end" fill="#111">2.8</text>
<text x="447.3" y="204.6" font-size="7.5" text-anchor="end" fill="#111">2.9</text>
<text x="447.3" y="192.8" font-size="7.5" text-anchor="end" fill="#111">3.0</text>
<text x="447.3" y="181.0" font-size="7.5" text-anchor="end" fill="#111">3.1</text>
<text x="447.3" y="316.8" font-size="7.5" text-anchor="end" fill="#111">0.0</text>
<text x="447.3" y="302.8" font-size="7.5" text-anchor="end" fill="#111">0.5</text>
<text x="447.3" y="288.8" font-size="7.5" text-anchor="end" fill="#111">1.0</text>
<text x="447.3" y="274.8" font-size="7.5" text-anchor="end" fill="#111">1.5</text>
<text x="447.3" y="260.8" font-size="7.5" text-anchor="end" fill="#111">2.0</text>
<text x="457.0" y="323" font-size="7.3" text-anchor="middle" fill="#111">0</text>
<text x="471.4" y="323" font-size="7.3" text-anchor="middle" fill="#111">20</text>
<text x="485.7" y="323" font-size="7.3" text-anchor="middle" fill="#111">40</text>
<text x="500.1" y="323" font-size="7.3" text-anchor="middle" fill="#111">60</text>
<text x="514.4" y="323" font-size="7.3" text-anchor="middle" fill="#111">80</text>
<text x="528.8" y="323" font-size="7.3" text-anchor="middle" fill="#111">100</text>
<text x="543.2" y="323" font-size="7.3" text-anchor="middle" fill="#111">120</text>
<path d="M450.4,237.20 h3.0 M450.4,231.30 h1.6 M450.4,225.40 h3.0 M450.4,219.50 h1.6 M450.4,213.60 h3.0 M450.4,207.70 h1.6 M450.4,201.80 h3.0 M450.4,195.90 h1.6 M450.4,190.00 h3.0 M450.4,184.10 h1.6 M450.4,178.20 h3.0 M450.4,314.00 h3.0 M450.4,307.00 h1.6 M450.4,300.00 h3.0 M450.4,293.00 h1.6 M450.4,286.00 h3.0 M450.4,279.00 h1.6 M450.4,272.00 h3.0 M450.4,265.00 h1.6 M450.4,258.00 h3.0 M456.80,314.0 v-3.0 M463.98,314.0 v-1.6 M471.16,314.0 v-3.0 M478.34,314.0 v-1.6 M485.52,314.0 v-3.0 M492.70,314.0 v-1.6 M499.88,314.0 v-3.0 M507.06,314.0 v-1.6 M514.24,314.0 v-3.0 M521.42,314.0 v-1.6 M528.60,314.0 v-3.0 M535.78,314.0 v-1.6 M542.96,314.0 v-3.0 M550.14,314.0 v-1.6" stroke="#000" stroke-width="1" fill="none"/>
<text x="499.9" y="336.1" font-size="11.8" text-anchor="middle" fill="#111">Time (ns)</text>
<text transform="translate(432.1,244.4) rotate(-90)" font-size="11.5" text-anchor="middle" fill="#111">TRPL counts (×10<tspan font-size="9" dy="-3.6">3</tspan><tspan dy="3.6">)</tspan></text>
<text x="498.5" y="191.6" font-size="12.5" text-anchor="middle" fill="#000" class="b">(II)</text>
<text x="492.0" y="212.8" font-size="8.7" text-anchor="middle" fill="#1f86d0">Signal of TRPL</text>
<path d="M480.0,226.8 q5,-2.6 6.2,-7.5" fill="none" stroke="#1f86d0" stroke-width="1.1"/>
<path d="M487.0,216 l-3.1,4.5 l2.8,-1.1 l2.5,1.8 Z" fill="#1f86d0" stroke="#1f86d0" stroke-width="0.5"/>
<path d="M464.5,244 V310.5" stroke="#1f86d0" stroke-width="1"/>
<path d="M464.5,240.8 l-2.9,5.8 l2.9,-1.4 l2.9,1.4 Z M464.5,313.6 l-2.9,-5.8 l2.9,1.4 l2.9,-1.4 Z" fill="#1f86d0"/>
<text x="498.2" y="272.2" font-size="8.7" text-anchor="middle" fill="#1f86d0">Signal of</text>
<text x="498.2" y="283.8" font-size="8.7" text-anchor="middle" fill="#1f86d0">steady-state PL</text>
<rect x="583.5" y="176.1" width="98.7" height="137.9" fill="#f3f9fb"/>
<path d="M590.5,240.5 H682.2" stroke="#1f86d0" stroke-width="0.8" stroke-dasharray="2.2,1.5"/>
<polyline points="583.97,239.90 584.00,237.92 584.04,240.77 584.08,242.00 584.11,239.44 584.15,238.97 584.18,239.26 584.22,239.09 584.26,239.86 584.29,240.45 584.33,240.64 584.36,239.96 584.40,240.16 584.44,238.53 584.47,238.91 584.51,241.24 584.54,238.80 584.58,239.71 584.62,238.28 584.65,237.80 584.69,238.97 584.72,241.88 584.76,238.85 584.79,241.61 584.83,237.71 584.87,240.49 584.90,239.90 584.94,237.38 584.97,241.87 585.01,239.62 585.05,241.00 585.08,240.31 585.12,240.66 585.15,238.81 585.19,240.04 585.23,239.23 585.26,238.86 585.30,241.80 585.33,237.91 585.37,239.97 585.40,241.74 585.44,240.48 585.48,238.56 585.51,238.40 585.55,240.52 585.58,239.53 585.62,239.35 585.66,238.36 585.69,239.82 585.73,238.42 585.76,240.78 585.80,240.56 585.84,238.82 585.87,238.74 585.91,239.71 585.94,238.89 585.98,239.39 586.02,238.68 586.05,238.18 586.09,239.00 586.12,238.62 586.16,240.15 586.19,240.36 586.23,242.62 586.27,239.14 586.30,239.61 586.34,238.98 586.37,242.02 586.41,240.27 586.45,240.36 586.48,241.93 586.52,238.51 586.55,238.11 586.59,241.26 586.63,239.09 586.66,237.47 586.70,241.18 586.73,238.40 586.77,237.64 586.80,237.29 586.84,241.38 586.88,241.00 586.91,239.39 586.95,238.13 586.98,241.24 587.02,240.60 587.06,241.06 587.09,238.25 587.13,240.36 587.16,238.93 587.20,238.83 587.24,238.18 587.27,239.12 587.31,239.22 587.34,238.18 587.38,239.05 587.42,241.25 587.45,240.33 587.49,238.50 587.52,239.47 587.56,240.10 587.59,239.34 587.63,236.96 587.67,239.71 587.70,239.04 587.74,239.07 587.77,239.99 587.81,238.14 587.85,238.56 587.88,239.14 587.92,241.37 587.95,238.05 587.99,238.68 588.03,239.76 588.06,242.63 588.10,239.73 588.13,241.19 588.17,239.94 588.21,240.30 588.24,240.71 588.28,238.36 588.31,239.51 588.35,238.08 588.38,240.88 588.42,239.89 588.46,237.92 588.49,239.24 588.53,240.57 588.56,240.78 588.60,240.41 588.64,239.76 588.67,238.78 588.71,239.47 588.74,238.69 588.78,238.58 588.82,239.50 588.85,238.01 588.89,238.71 588.92,239.89 588.96,239.86 588.99,239.68 589.03,240.59 589.07,241.36 589.10,239.61 589.14,240.31 589.17,238.91 589.21,240.41 589.25,239.53 589.28,239.40 589.32,240.25 589.35,239.41 589.39,240.57 589.43,240.20 589.46,238.64 589.50,239.16 589.53,239.66 589.57,240.66 589.61,238.77 589.64,237.12 589.68,242.43 589.71,238.32 589.75,235.29 589.78,230.57 589.82,226.16 589.86,222.61 589.89,217.18 589.93,213.68 589.96,209.17 590.00,204.45 590.04,200.34 590.07,195.82 590.11,191.74 590.14,187.56 590.18,182.77 590.22,178.81 590.25,178.51 590.29,179.81 590.32,180.23 590.36,182.09 590.39,183.24 590.43,184.12 590.47,184.19 590.50,185.31 590.54,185.44 590.57,186.87 590.61,187.57 590.65,187.65 590.68,188.60 590.72,188.87 590.75,189.48 590.79,190.31 590.83,191.54 590.86,192.03 590.90,191.50 590.93,192.99 590.97,193.38 591.01,194.02 591.04,194.63 591.08,195.23 591.11,195.92 591.15,196.43 591.18,197.51 591.22,196.61 591.26,197.78 591.29,198.72 591.33,198.49 591.36,198.89 591.40,200.15 591.44,200.24 591.47,198.48 591.51,200.11 591.54,200.68 591.58,200.36 591.62,202.19 591.65,202.78 591.69,200.77 591.72,203.40 591.76,203.63 591.79,203.08 591.83,204.19 591.87,206.15 591.90,202.51 591.94,205.34 591.97,203.28 592.01,205.24 592.05,207.35 592.08,204.53 592.12,207.01 592.15,208.17 592.19,207.40 592.23,210.37 592.26,207.40 592.30,209.11 592.33,208.76 592.37,209.83 592.41,208.09 592.44,208.74 592.48,208.07 592.51,207.56 592.55,209.55 592.58,210.02 592.62,209.97 592.66,211.61 592.69,211.49 592.73,210.05 592.76,212.30 592.80,213.87 592.84,212.06 592.87,211.48 592.91,210.13 592.94,213.09 592.98,213.55 593.02,212.42 593.05,212.92 593.09,212.58 593.12,213.72 593.16,212.98 593.20,214.13 593.23,212.30 593.27,213.36 593.30,213.14 593.34,214.57 593.37,215.98 593.41,214.29 593.45,214.52 593.48,213.20 593.52,213.51 593.55,214.91 593.59,215.06 593.63,216.38 593.66,215.31 593.70,215.12 593.73,216.03 593.77,217.00 593.81,214.13 593.84,217.04 593.88,213.89 593.91,214.60 593.95,214.25 593.98,217.38 594.02,215.63 594.06,218.28 594.09,217.09 594.13,218.66 594.16,217.76 594.20,217.57 594.24,215.82 594.27,215.76 594.31,217.68 594.34,217.67 594.38,218.59 594.42,218.93 594.45,219.83 594.49,217.94 594.52,217.00 594.56,218.80 594.60,217.45 594.63,219.45 594.67,219.34 594.70,218.83 594.74,217.12 594.77,218.97 594.81,217.42 594.85,218.90 594.88,219.93 594.92,221.13 594.95,219.27 594.99,219.95 595.03,217.67 595.06,218.33 595.10,221.01 595.13,217.96 595.17,218.41 595.21,222.08 595.24,220.52 595.28,218.96 595.31,221.33 595.35,220.30 595.38,218.80 595.42,219.20 595.46,219.00 595.49,218.86 595.53,220.79 595.56,217.01 595.60,219.14 595.64,217.16 595.67,220.23 595.71,219.25 595.74,219.58 595.78,220.24 595.82,219.71 595.85,219.83 595.89,219.19 595.92,219.86 595.96,220.23 596.00,219.74 596.03,218.59 596.07,220.36 596.10,219.74 596.14,220.36 596.17,223.04 596.21,221.75 596.25,221.82 596.28,222.46 596.32,221.54 596.35,223.01 596.39,220.51 596.43,221.56 596.46,219.40 596.50,220.49 596.53,222.60 596.57,221.33 596.61,221.04 596.64,221.98 596.68,221.62 596.71,222.56 596.75,222.16 596.79,220.94 596.82,221.74 596.86,219.86 596.89,224.04 596.93,222.43 596.96,221.94 597.00,219.67 597.04,220.16 597.07,220.65 597.11,220.41 597.14,219.67 597.18,220.85 597.22,222.02 597.25,221.54 597.29,222.70 597.32,222.11 597.36,221.41 597.40,222.52 597.43,221.81 597.47,222.51 597.50,223.64 597.54,223.82 597.57,221.21 597.61,222.06 597.65,221.10 597.68,222.29 597.72,222.21 597.75,221.90 597.79,222.68 597.83,220.58 597.86,221.08 597.90,221.86 597.93,223.68 597.97,223.08 598.01,222.19 598.04,221.04 598.08,222.56 598.11,222.57 598.15,221.92 598.19,222.45 598.22,222.82 598.26,224.05 598.29,221.16 598.33,222.78 598.36,223.38 598.40,222.90 598.44,224.44 598.47,224.91 598.51,225.07 598.54,222.43 598.58,224.56 598.62,222.80 598.65,224.44 598.69,225.20 598.72,223.79 598.76,223.97 598.80,223.94 598.83,220.97 598.87,222.89 598.90,223.90 598.94,222.11 598.98,223.61 599.01,221.74 599.05,225.20 599.08,221.95 599.12,224.66 599.15,224.26 599.19,223.12 599.23,224.73 599.26,225.46 599.30,223.94 599.33,223.85 599.37,225.53 599.41,222.32 599.44,224.57 599.48,224.35 599.51,223.89 599.55,223.57 599.59,222.35 599.62,226.34 599.66,223.69 599.69,222.63 599.73,223.46 599.76,223.87 599.80,225.18 599.84,223.41 599.87,224.45 599.91,223.70 599.94,225.21 599.98,224.31 600.02,224.12 600.05,225.80 600.09,222.71 600.12,224.17 600.16,225.63 600.20,224.37 600.23,223.92 600.27,224.53 600.30,225.41 600.34,224.43 600.38,225.86 600.41,226.26 600.45,222.76 600.48,222.13 600.52,221.95 600.55,221.48 600.59,222.63 600.63,225.48 600.66,225.05 600.70,223.01 600.73,224.98 600.77,224.85 600.81,224.46 600.84,223.94 600.88,226.17 600.91,224.46 600.95,223.92 600.99,227.09 601.02,223.17 601.06,223.64 601.09,225.62 601.13,222.36 601.16,224.13 601.20,224.08 601.24,222.78 601.27,227.55 601.31,224.73 601.34,223.44 601.38,223.02 601.42,224.84 601.45,225.05 601.49,225.79 601.52,225.28 601.56,225.95 601.60,227.74 601.63,225.65 601.67,226.20 601.70,225.71 601.74,225.55 601.78,225.61 601.81,224.90 601.85,225.13 601.88,225.52 601.92,225.86 601.95,225.24 601.99,225.52 602.03,225.31 602.06,223.46 602.10,224.89 602.13,225.70 602.17,227.78 602.21,227.05 602.24,228.10 602.28,224.20 602.31,223.95 602.35,225.83 602.39,225.93 602.42,224.78 602.46,224.68 602.49,227.56 602.53,225.75 602.57,225.84 602.60,227.03 602.64,223.73 602.67,224.58 602.71,226.28 602.74,225.60 602.78,226.25 602.82,226.21 602.85,226.09 602.89,224.36 602.92,225.64 602.96,226.25 603.00,226.53 603.03,225.38 603.07,226.80 603.10,227.74 603.14,225.93 603.18,223.81 603.21,226.64 603.25,225.62 603.28,226.08 603.32,224.33 603.35,225.28 603.39,227.46 603.43,223.75 603.46,225.92 603.50,227.08 603.53,226.59 603.57,225.91 603.61,224.67 603.64,226.37 603.68,226.96 603.71,224.42 603.75,224.13 603.79,226.54 603.82,225.94 603.86,225.67 603.89,226.53 603.93,227.31 603.97,224.89 604.00,227.57 604.04,228.50 604.07,225.52 604.11,224.82 604.14,225.27 604.18,227.25 604.22,226.62 604.25,227.69 604.29,227.00 604.32,229.20 604.36,227.47 604.40,224.69 604.43,227.88 604.47,224.30 604.50,226.24 604.54,228.92 604.58,225.33 604.61,227.70 604.65,225.85 604.68,226.77 604.72,227.00 604.75,226.80 604.79,228.24 604.83,227.56 604.86,227.14 604.90,224.45 604.93,227.39 604.97,226.28 605.01,226.14 605.04,225.20 605.08,227.03 605.11,226.51 605.15,227.93 605.19,223.96 605.22,228.66 605.26,226.51 605.29,227.27 605.33,226.65 605.37,227.53 605.40,227.45 605.44,225.68 605.47,225.74 605.51,227.03 605.54,227.13 605.58,226.75 605.62,227.09 605.65,226.46 605.69,226.08 605.72,226.46 605.76,229.02 605.80,227.15 605.83,228.42 605.87,226.56 605.90,227.49 605.94,226.77 605.98,227.27 606.01,226.02 606.05,225.51 606.08,227.00 606.12,229.08 606.16,227.24 606.19,224.79 606.23,228.13 606.26,227.39 606.30,224.49 606.33,225.22 606.37,226.54 606.41,227.08 606.44,229.02 606.48,225.35 606.51,226.27 606.55,229.52 606.59,227.59 606.62,227.61 606.66,227.55 606.69,228.31 606.73,224.69 606.77,228.61 606.80,225.72 606.84,226.76 606.87,227.56 606.91,227.02 606.94,226.68 606.98,228.59 607.02,228.09 607.05,226.15 607.09,226.49 607.12,227.19 607.16,229.18 607.20,229.73 607.23,225.87 607.27,225.94 607.30,227.12 607.34,227.28 607.38,228.19 607.41,227.18 607.45,226.33 607.48,226.88 607.52,228.53 607.56,227.42 607.59,228.55 607.63,227.99 607.66,229.28 607.70,230.79 607.73,229.24 607.77,227.72 607.81,228.96 607.84,227.32 607.88,228.70 607.91,227.65 607.95,228.61 607.99,226.27 608.02,228.56 608.06,228.06 608.09,226.68 608.13,226.27 608.17,229.57 608.20,226.32 608.24,229.48 608.27,229.37 608.31,229.23 608.34,226.96 608.38,229.54 608.42,227.51 608.45,227.73 608.49,228.50 608.52,227.71 608.56,225.72 608.60,226.31 608.63,229.36 608.67,228.01 608.70,228.84 608.74,228.53 608.78,229.05 608.81,227.72 608.85,229.47 608.88,229.97 608.92,228.38 608.96,228.06 608.99,226.97 609.03,227.65 609.06,229.57 609.10,229.66 609.13,228.13 609.17,228.22 609.21,227.66 609.24,226.94 609.28,231.36 609.31,229.37 609.35,227.94 609.39,229.97 609.42,226.58 609.46,228.77 609.49,227.94 609.53,228.95 609.57,228.27 609.60,228.22 609.64,228.06 609.67,230.45 609.71,231.13 609.75,228.88 609.78,227.81 609.82,229.11 609.85,229.03 609.89,227.51 609.92,228.04 609.96,230.04 610.00,228.67 610.03,229.15 610.07,228.83 610.10,229.02 610.14,228.21 610.18,228.96 610.21,228.54 610.25,228.94 610.28,229.25 610.32,229.71 610.36,228.68 610.39,228.48 610.43,227.10 610.46,226.28 610.50,229.90 610.53,229.90 610.57,227.80 610.61,229.63 610.64,228.97 610.68,230.70 610.71,228.42 610.75,230.97 610.79,227.95 610.82,230.23 610.86,228.92 610.89,228.01 610.93,230.28 610.97,229.40 611.00,226.64 611.04,231.01 611.07,229.14 611.11,231.77 611.15,228.89 611.18,229.55 611.22,230.74 611.25,230.83 611.29,227.84 611.32,228.57 611.36,230.90 611.40,228.42 611.43,230.58 611.47,230.43 611.50,228.96 611.54,229.61 611.58,228.83 611.61,228.16 611.65,230.30 611.68,228.85 611.72,229.17 611.76,231.60 611.79,228.59 611.83,228.34 611.86,231.30 611.90,230.01 611.93,228.42 611.97,228.53 612.01,230.10 612.04,229.95 612.08,230.05 612.11,231.20 612.15,229.57 612.19,227.12 612.22,231.48 612.26,229.78 612.29,230.92 612.33,227.91 612.37,231.82 612.40,228.69 612.44,229.26 612.47,230.88 612.51,230.22 612.55,229.78 612.58,227.75 612.62,229.53 612.65,228.42 612.69,228.59 612.72,229.80 612.76,229.88 612.80,230.02 612.83,227.93 612.87,228.35 612.90,228.77 612.94,230.80 612.98,230.35 613.01,229.07 613.05,230.25 613.08,231.72 613.12,231.90 613.16,229.50 613.19,229.14 613.23,229.43 613.26,228.19 613.30,232.07 613.34,232.34 613.37,230.01 613.41,229.09 613.44,231.22 613.48,229.87 613.51,229.79 613.55,230.80 613.59,231.27 613.62,230.65 613.66,230.36 613.69,229.37 613.73,230.65 613.77,231.49 613.80,231.64 613.84,230.89 613.87,229.71 613.91,231.41 613.95,230.82 613.98,229.73 614.02,230.07 614.05,227.87 614.09,229.80 614.12,229.65 614.16,227.81 614.20,232.76 614.23,232.61 614.27,231.44 614.30,230.34 614.34,229.04 614.38,229.67 614.41,231.19 614.45,232.33 614.48,230.11 614.52,230.90 614.56,231.79 614.59,232.15 614.63,229.75 614.66,230.98 614.70,230.40 614.74,230.79 614.77,231.62 614.81,231.28 614.84,231.47 614.88,230.81 614.91,231.59 614.95,229.98 614.99,231.98 615.02,230.48 615.06,230.63 615.09,230.05 615.13,233.63 615.17,230.04 615.20,230.41 615.24,231.41 615.27,231.31 615.31,231.38 615.35,232.74 615.38,228.05 615.42,231.20 615.45,230.42 615.49,232.44 615.52,231.55 615.56,233.77 615.60,231.15 615.63,232.14 615.67,231.07 615.70,230.56 615.74,229.42 615.78,231.06 615.81,232.49 615.85,231.76 615.88,230.45 615.92,228.90 615.96,233.90 615.99,232.76 616.03,232.09 616.06,231.43 616.10,230.47 616.14,229.52 616.17,230.54 616.21,229.50 616.24,232.10 616.28,232.31 616.31,233.35 616.35,232.31 616.39,230.52 616.42,231.37 616.46,228.89 616.49,231.79 616.53,232.65 616.57,230.76 616.60,233.96 616.64,230.45 616.67,231.05 616.71,233.23 616.75,230.92 616.78,231.26 616.82,230.00 616.85,231.88 616.89,232.25 616.92,231.58 616.96,231.76 617.00,232.90 617.03,230.48 617.07,230.44 617.10,232.55 617.14,232.37 617.18,233.02 617.21,232.27 617.25,232.56 617.28,231.75 617.32,230.90 617.36,229.88 617.39,232.91 617.43,232.73 617.46,233.22 617.50,231.85 617.54,230.85 617.57,232.93 617.61,231.86 617.64,233.09 617.68,233.63 617.71,232.55 617.75,230.87 617.79,232.35 617.82,234.11 617.86,233.18 617.89,232.34 617.93,229.51 617.97,233.44 618.00,228.86 618.04,230.77 618.07,230.42 618.11,230.85 618.15,234.57 618.18,231.75 618.22,231.72 618.25,231.40 618.29,230.46 618.33,232.14 618.36,233.06 618.40,231.47 618.43,231.87 618.47,231.53 618.50,232.65 618.54,232.15 618.58,234.70 618.61,231.86 618.65,230.83 618.68,232.01 618.72,232.22 618.76,231.37 618.79,232.53 618.83,232.42 618.86,230.02 618.90,229.99 618.94,234.39 618.97,232.91 619.01,231.82 619.04,231.24 619.08,233.68 619.11,232.91 619.15,231.39 619.19,230.72 619.22,233.40 619.26,232.61 619.29,232.60 619.33,230.84 619.37,231.65 619.40,231.74 619.44,229.92 619.47,231.27 619.51,232.12 619.55,230.28 619.58,230.22 619.62,230.46 619.65,229.96 619.69,231.78 619.73,234.84 619.76,232.73 619.80,232.06 619.83,232.34 619.87,231.34 619.90,231.94 619.94,229.86 619.98,231.58 620.01,231.12 620.05,230.81 620.08,230.47 620.12,232.94 620.16,230.52 620.19,232.37 620.23,234.88 620.26,230.18 620.30,232.02 620.34,230.81 620.37,233.70 620.41,231.58 620.44,233.32 620.48,229.56 620.51,230.49 620.55,232.52 620.59,235.25 620.62,232.37 620.66,232.07 620.69,232.58 620.73,232.01 620.77,232.86 620.80,231.69 620.84,231.96 620.87,233.48 620.91,231.47 620.95,231.84 620.98,232.73 621.02,233.42 621.05,233.71 621.09,229.72 621.13,229.73 621.16,231.59 621.20,233.16 621.23,231.66 621.27,233.59 621.30,233.93 621.34,235.14 621.38,233.38 621.41,233.54 621.45,231.33 621.48,232.21 621.52,233.54 621.56,233.14 621.59,232.88 621.63,232.80 621.66,232.73 621.70,231.29 621.74,234.65 621.77,232.51 621.81,232.62 621.84,231.75 621.88,232.87 621.92,233.77 621.95,231.76 621.99,231.38 622.02,233.77 622.06,231.47 622.09,229.98 622.13,233.46 622.17,231.98 622.20,235.67 622.24,232.54 622.27,233.99 622.31,232.28 622.35,233.14 622.38,232.51 622.42,231.47 622.45,231.70 622.49,231.73 622.53,233.73 622.56,233.17 622.60,232.96 622.63,233.46 622.67,233.95 622.70,232.89 622.74,232.33 622.78,233.25 622.81,234.42 622.85,231.66 622.88,233.77 622.92,230.82 622.96,232.65 622.99,232.71 623.03,231.47 623.06,232.92 623.10,234.58 623.14,232.87 623.17,235.58 623.21,232.65 623.24,232.95 623.28,232.42 623.32,233.09 623.35,230.78 623.39,232.90 623.42,233.70 623.46,230.32 623.49,233.13 623.53,232.19 623.57,233.37 623.60,233.56 623.64,233.27 623.67,233.96 623.71,233.25 623.75,233.51 623.78,233.88 623.82,234.25 623.85,233.68 623.89,236.08 623.93,232.92 623.96,236.10 624.00,233.77 624.03,233.45 624.07,234.16 624.10,233.34 624.14,231.02 624.18,233.20 624.21,234.01 624.25,232.95 624.28,234.31 624.32,235.74 624.36,234.43 624.39,232.70 624.43,233.75 624.46,232.77 624.50,232.63 624.54,235.93 624.57,235.39 624.61,234.62 624.64,235.15 624.68,232.82 624.72,234.71 624.75,235.02 624.79,231.90 624.82,235.33 624.86,235.24 624.89,232.09 624.93,233.51 624.97,233.86 625.00,232.97 625.04,234.44 625.07,234.07 625.11,234.12 625.15,232.19 625.18,233.80 625.22,235.41 625.25,235.30 625.29,233.12 625.33,235.48 625.36,235.56 625.40,234.58 625.43,235.80 625.47,233.47 625.51,231.20 625.54,231.35 625.58,233.55 625.61,231.95 625.65,233.49 625.68,233.77 625.72,232.94 625.76,233.70 625.79,234.35 625.83,233.91 625.86,234.16 625.90,233.38 625.94,232.51 625.97,235.36 626.01,234.51 626.04,235.32 626.08,231.83 626.12,232.95 626.15,233.61 626.19,235.10 626.22,232.71 626.26,235.24 626.29,235.92 626.33,234.84 626.37,232.37 626.40,234.08 626.44,234.50 626.47,234.73 626.51,232.85 626.55,235.07 626.58,234.74 626.62,233.32 626.65,233.23 626.69,234.12 626.73,233.41 626.76,233.54 626.80,236.51 626.83,233.99 626.87,234.78 626.91,234.19 626.94,234.09 626.98,233.70 627.01,233.02 627.05,235.29 627.08,234.90 627.12,234.67 627.16,234.16 627.19,236.03 627.23,234.02 627.26,233.16 627.30,234.85 627.34,236.39 627.37,233.23 627.41,232.40 627.44,233.56 627.48,232.24 627.52,232.70 627.55,234.27 627.59,234.49 627.62,231.23 627.66,233.28 627.69,234.65 627.73,232.56 627.77,235.16 627.80,234.69 627.84,232.50 627.87,232.95 627.91,234.79 627.95,233.00 627.98,233.21 628.02,236.92 628.05,234.41 628.09,233.07 628.13,233.95 628.16,235.51 628.20,233.25 628.23,234.94 628.27,233.24 628.31,233.86 628.34,232.90 628.38,235.19 628.41,231.95 628.45,234.60 628.48,234.57 628.52,234.95 628.56,234.47 628.59,234.13 628.63,234.71 628.66,233.52 628.70,233.61 628.74,234.56 628.77,234.45 628.81,234.08 628.84,233.22 628.88,232.74 628.92,235.53 628.95,233.49 628.99,233.52 629.02,236.07 629.06,233.87 629.10,232.36 629.13,235.03 629.17,235.88 629.20,237.13 629.24,234.41 629.27,234.75 629.31,234.66 629.35,233.44 629.38,235.95 629.42,234.64 629.45,232.30 629.49,232.60 629.53,235.28 629.56,236.74 629.60,234.12 629.63,234.10 629.67,234.27 629.71,235.71 629.74,233.63 629.78,235.62 629.81,235.91 629.85,235.69 629.88,234.64 629.92,234.68 629.96,236.10 629.99,234.10 630.03,232.97 630.06,236.67 630.10,233.98 630.14,235.61 630.17,237.39 630.21,234.43 630.24,236.05 630.28,235.08 630.32,235.49 630.35,237.43 630.39,235.86 630.42,233.66 630.46,233.72 630.50,236.40 630.53,233.80 630.57,233.94 630.60,232.89 630.64,232.22 630.67,232.59 630.71,233.10 630.75,233.80 630.78,234.68 630.82,236.25 630.85,234.83 630.89,233.53 630.93,233.62 630.96,235.56 631.00,237.54 631.03,235.89 631.07,236.98 631.11,234.50 631.14,236.63 631.18,236.11 631.21,235.22 631.25,235.22 631.28,234.62 631.32,233.78 631.36,234.47 631.39,233.15 631.43,235.82 631.46,234.21 631.50,231.97 631.54,234.35 631.57,235.66 631.61,234.74 631.64,235.11 631.68,235.29 631.72,233.03 631.75,232.49 631.79,235.43 631.82,235.87 631.86,233.53 631.90,233.39 631.93,234.81 631.97,233.78 632.00,235.22 632.04,233.18 632.07,234.88 632.11,234.49 632.15,234.03 632.18,236.16 632.22,234.61 632.25,234.61 632.29,233.68 632.33,235.72 632.36,237.48 632.40,235.77 632.43,234.38 632.47,234.88 632.51,234.46 632.54,233.13 632.58,233.78 632.61,233.95 632.65,234.66 632.69,236.21 632.72,235.19 632.76,235.33 632.79,236.21 632.83,234.89 632.86,235.59 632.90,236.14 632.94,236.45 632.97,237.30 633.01,232.99 633.04,236.00 633.08,235.93 633.12,237.91 633.15,235.31 633.19,234.98 633.22,234.70 633.26,236.20 633.30,236.64 633.33,232.51 633.37,235.65 633.40,234.73 633.44,235.05 633.47,235.19 633.51,233.32 633.55,234.53 633.58,234.22 633.62,233.40 633.65,234.13 633.69,235.15 633.73,236.55 633.76,234.12 633.80,235.25 633.83,237.05 633.87,234.36 633.91,232.92 633.94,233.95 633.98,234.77 634.01,233.20 634.05,234.56 634.09,236.54 634.12,235.00 634.16,234.39 634.19,235.61 634.23,236.34 634.26,236.84 634.30,233.35 634.34,234.35 634.37,236.36 634.41,233.59 634.44,235.26 634.48,236.41 634.52,236.30 634.55,234.52 634.59,234.01 634.62,234.37 634.66,235.80 634.70,238.16 634.73,236.80 634.77,234.80 634.80,236.68 634.84,236.97 634.87,236.95 634.91,238.02 634.95,233.62 634.98,238.05 635.02,236.83 635.05,234.83 635.09,234.65 635.13,234.10 635.16,236.56 635.20,235.49 635.23,233.09 635.27,236.45 635.31,234.97 635.34,236.37 635.38,237.56 635.41,236.62 635.45,236.71 635.49,234.41 635.52,234.40 635.56,232.70 635.59,236.68 635.63,236.06 635.66,234.85 635.70,236.24 635.74,236.73 635.77,235.74 635.81,234.33 635.84,236.38 635.88,233.34 635.92,236.28 635.95,234.26 635.99,234.46 636.02,236.24 636.06,235.49 636.10,233.91 636.13,237.14 636.17,234.14 636.20,235.81 636.24,234.44 636.28,234.14 636.31,235.05 636.35,236.41 636.38,235.49 636.42,237.00 636.45,238.26 636.49,233.28 636.53,236.64 636.56,238.44 636.60,235.25 636.63,237.91 636.67,235.14 636.71,233.63 636.74,233.91 636.78,234.40 636.81,236.11 636.85,236.80 636.89,238.41 636.92,237.22 636.96,236.08 636.99,236.62 637.03,233.57 637.06,236.16 637.10,236.10 637.14,234.47 637.17,236.44 637.21,234.58 637.24,235.06 637.28,236.74 637.32,234.72 637.35,236.09 637.39,236.35 637.42,234.91 637.46,235.59 637.50,236.32 637.53,234.50 637.57,233.86 637.60,235.77 637.64,236.47 637.68,236.14 637.71,235.56 637.75,234.34 637.78,237.87 637.82,233.68 637.85,235.25 637.89,235.73 637.93,232.96 637.96,234.09 638.00,233.35 638.03,236.25 638.07,234.30 638.11,237.92 638.14,236.49 638.18,237.13 638.21,234.11 638.25,235.28 638.29,237.57 638.32,234.56 638.36,235.42 638.39,235.10 638.43,233.03 638.46,238.12 638.50,234.64 638.54,236.71 638.57,235.41 638.61,235.17 638.64,234.06 638.68,234.76 638.72,235.07 638.75,238.74 638.79,236.49 638.82,235.68 638.86,236.33 638.90,236.75 638.93,234.91 638.97,235.84 639.00,236.51 639.04,236.30 639.08,236.91 639.11,236.88 639.15,236.68 639.18,234.81 639.22,233.83 639.25,235.35 639.29,236.97 639.33,236.57 639.36,235.37 639.40,236.74 639.43,234.96 639.47,233.99 639.51,234.09 639.54,236.91 639.58,235.69 639.61,236.07 639.65,235.29 639.69,237.29 639.72,235.82 639.76,235.74 639.79,237.10 639.83,235.88 639.87,235.31 639.90,236.24 639.94,236.77 639.97,235.76 640.01,235.64 640.04,237.14 640.08,236.38 640.12,236.12 640.15,237.26 640.19,235.57 640.22,236.86 640.26,237.65 640.30,234.64 640.33,234.58 640.37,237.76 640.40,236.73 640.44,237.42 640.48,238.66 640.51,234.86 640.55,236.78 640.58,235.04 640.62,236.75 640.65,237.58 640.69,235.23 640.73,236.77 640.76,235.21 640.80,237.98 640.83,234.38 640.87,234.09 640.91,237.07 640.94,238.90 640.98,238.71 641.01,236.59 641.05,238.78 641.09,236.79 641.12,235.95 641.16,236.99 641.19,235.66 641.23,236.71 641.27,237.36 641.30,236.29 641.34,237.18 641.37,235.87 641.41,236.93 641.44,234.33 641.48,237.45 641.52,235.37 641.55,235.82 641.59,235.67 641.62,236.73 641.66,237.45 641.70,238.75 641.73,237.39 641.77,235.47 641.80,235.78 641.84,235.24 641.88,237.86 641.91,236.06 641.95,236.98 641.98,238.50 642.02,235.27 642.05,234.40 642.09,236.70 642.13,235.21 642.16,236.55 642.20,237.77 642.23,238.83 642.27,235.46 642.31,234.89 642.34,236.94 642.38,234.97 642.41,235.39 642.45,237.27 642.49,235.29 642.52,235.35 642.56,237.23 642.59,236.89 642.63,236.04 642.67,237.37 642.70,237.96 642.74,236.17 642.77,233.79 642.81,235.95 642.84,237.12 642.88,237.12 642.92,234.60 642.95,237.50 642.99,237.62 643.02,237.25 643.06,236.75 643.10,237.26 643.13,236.70 643.17,236.37 643.20,234.87 643.24,235.89 643.28,238.81 643.31,236.89 643.35,237.78 643.38,238.02 643.42,237.07 643.46,237.57 643.49,236.58 643.53,237.25 643.56,234.80 643.60,236.81 643.63,238.22 643.67,235.79 643.71,237.48 643.74,236.13 643.78,238.69 643.81,238.88 643.85,238.72 643.89,237.90 643.92,238.95 643.96,234.56 643.99,234.66 644.03,237.45 644.07,234.21 644.10,235.16 644.14,237.81 644.17,237.10 644.21,235.89 644.24,238.05 644.28,235.78 644.32,237.97 644.35,235.24 644.39,233.98 644.42,236.30 644.46,235.12 644.50,236.52 644.53,236.12 644.57,237.86 644.60,236.56 644.64,234.76 644.68,235.15 644.71,238.16 644.75,237.25 644.78,235.97 644.82,235.67 644.86,236.73 644.89,238.33 644.93,237.51 644.96,235.94 645.00,235.47 645.03,237.45 645.07,236.19 645.11,234.86 645.14,237.90 645.18,238.16 645.21,236.83 645.25,235.30 645.29,236.88 645.32,236.37 645.36,238.44 645.39,236.44 645.43,239.37 645.47,236.68 645.50,237.30 645.54,234.90 645.57,235.86 645.61,238.51 645.64,234.92 645.68,233.96 645.72,236.58 645.75,236.42 645.79,237.58 645.82,237.29 645.86,237.09 645.90,236.12 645.93,236.62 645.97,237.05 646.00,238.36 646.04,233.91 646.08,235.40 646.11,235.38 646.15,237.54 646.18,237.63 646.22,237.29 646.26,237.29 646.29,235.61 646.33,238.87 646.36,236.90 646.40,237.10 646.43,237.12 646.47,236.14 646.51,236.58 646.54,236.83 646.58,236.47 646.61,239.63 646.65,236.01 646.69,237.20 646.72,236.36 646.76,237.26 646.79,238.69 646.83,235.99 646.87,237.66 646.90,236.51 646.94,237.78 646.97,237.63 647.01,235.55 647.05,238.75 647.08,234.85 647.12,235.70 647.15,236.65 647.19,236.02 647.22,234.03 647.26,237.08 647.30,239.18 647.33,238.03 647.37,237.66 647.40,237.41 647.44,238.70 647.48,237.03 647.51,236.04 647.55,236.19 647.58,236.76 647.62,238.68 647.66,236.30 647.69,236.61 647.73,236.27 647.76,237.01 647.80,235.43 647.83,238.31 647.87,237.18 647.91,235.97 647.94,237.42 647.98,236.50 648.01,235.54 648.05,234.11 648.09,239.31 648.12,236.91 648.16,236.70 648.19,237.77 648.23,237.01 648.27,239.22 648.30,235.95 648.34,236.39 648.37,238.18 648.41,235.96 648.45,238.25 648.48,237.48 648.52,234.26 648.55,239.07 648.59,239.54 648.62,236.55 648.66,236.76 648.70,234.29 648.73,235.10 648.77,236.44 648.80,238.63 648.84,237.99 648.88,237.53 648.91,235.29 648.95,237.87 648.98,236.79 649.02,238.71 649.06,236.30 649.09,234.52 649.13,237.19 649.16,237.51 649.20,238.36 649.23,237.35 649.27,237.91 649.31,238.59 649.34,235.35 649.38,237.25 649.41,236.69 649.45,236.77 649.49,236.97 649.52,237.15 649.56,237.48 649.59,236.51 649.63,238.30 649.67,238.28 649.70,237.19 649.74,237.10 649.77,239.10 649.81,237.98 649.85,238.39 649.88,237.29 649.92,235.54 649.95,238.49 649.99,236.60 650.02,235.57 650.06,237.41 650.10,236.55 650.13,238.41 650.17,239.39 650.20,236.05 650.24,237.05 650.28,235.02 650.31,237.28 650.35,238.04 650.38,236.02 650.42,234.90 650.46,236.02 650.49,237.92 650.53,236.83 650.56,236.38 650.60,237.99 650.64,237.52 650.67,235.48 650.71,236.56 650.74,236.80 650.78,237.50 650.81,236.87 650.85,237.32 650.89,237.00 650.92,236.55 650.96,238.22 650.99,236.97 651.03,238.06 651.07,237.12 651.10,239.15 651.14,237.36 651.17,237.78 651.21,236.58 651.25,237.72 651.28,239.10 651.32,237.28 651.35,240.06 651.39,238.22 651.42,235.90 651.46,238.33 651.50,237.89 651.53,238.50 651.57,236.84 651.60,238.29 651.64,236.42 651.68,236.84 651.71,238.95 651.75,235.16 651.78,238.88 651.82,237.62 651.86,236.41 651.89,239.95 651.93,237.71 651.96,236.48 652.00,236.38 652.04,237.84 652.07,237.26 652.11,235.64 652.14,239.08 652.18,238.25 652.21,235.32 652.25,237.14 652.29,236.72 652.32,238.01 652.36,238.17 652.39,238.90 652.43,235.68 652.47,237.26 652.50,239.08 652.54,236.57 652.57,238.12 652.61,236.00 652.65,239.19 652.68,238.20 652.72,237.74 652.75,239.40 652.79,236.75 652.82,236.35 652.86,237.78 652.90,238.89 652.93,239.55 652.97,236.66 653.00,237.64 653.04,238.13 653.08,237.26 653.11,237.01 653.15,239.46 653.18,236.18 653.22,237.88 653.26,237.43 653.29,237.65 653.33,237.13 653.36,236.02 653.40,238.81 653.44,237.76 653.47,238.86 653.51,238.03 653.54,237.59 653.58,237.72 653.61,237.29 653.65,237.75 653.69,235.74 653.72,237.27 653.76,235.37 653.79,237.39 653.83,238.53 653.87,236.33 653.90,235.95 653.94,238.47 653.97,237.33 654.01,238.27 654.05,238.51 654.08,236.86 654.12,237.19 654.15,236.12 654.19,238.21 654.23,236.51 654.26,235.99 654.30,237.27 654.33,238.10 654.37,236.79 654.40,236.29 654.44,238.94 654.48,237.20 654.51,234.98 654.55,237.34 654.58,237.89 654.62,237.05 654.66,237.24 654.69,235.77 654.73,238.49 654.76,239.15 654.80,238.04 654.84,236.02 654.87,237.74 654.91,236.68 654.94,237.31 654.98,237.44 655.01,235.80 655.05,237.75 655.09,235.76 655.12,235.53 655.16,236.85 655.19,237.00 655.23,236.97 655.27,237.51 655.30,237.73 655.34,236.20 655.37,236.50 655.41,237.49 655.45,237.59 655.48,236.44 655.52,236.23 655.55,238.17 655.59,235.44 655.63,237.97 655.66,236.65 655.70,237.71 655.73,237.80 655.77,236.95 655.80,238.03 655.84,237.79 655.88,239.93 655.91,236.66 655.95,238.99 655.98,236.54 656.02,236.83 656.06,236.81 656.09,235.78 656.13,236.82 656.16,237.54 656.20,238.21 656.24,239.19 656.27,236.34 656.31,239.29 656.34,236.59 656.38,238.73 656.41,239.65 656.45,236.25 656.49,237.38 656.52,237.31 656.56,237.98 656.59,234.97 656.63,238.37 656.67,236.92 656.70,236.69 656.74,235.74 656.77,237.61 656.81,236.82 656.85,238.14 656.88,239.51 656.92,238.14 656.95,235.53 656.99,238.32 657.03,238.82 657.06,236.00 657.10,238.44 657.13,237.36 657.17,237.51 657.20,238.06 657.24,239.30 657.28,235.72 657.31,236.10 657.35,237.16 657.38,237.17 657.42,238.03 657.46,235.97 657.49,238.75 657.53,240.31 657.56,237.70 657.60,237.33 657.64,237.38 657.67,236.97 657.71,236.96 657.74,238.72 657.78,238.96 657.82,236.95 657.85,237.22 657.89,238.04 657.92,238.31 657.96,237.12 657.99,237.46 658.03,234.98 658.07,236.79 658.10,237.02 658.14,235.72 658.17,239.65 658.21,238.12 658.25,238.89 658.28,239.59 658.32,237.67 658.35,234.97 658.39,237.73 658.43,240.01 658.46,239.64 658.50,238.98 658.53,237.08 658.57,236.23 658.60,239.71 658.64,237.06 658.68,239.26 658.71,236.32 658.75,237.25 658.78,237.62 658.82,239.15 658.86,239.61 658.89,239.09 658.93,237.84 658.96,236.25 659.00,235.47 659.04,240.11 659.07,237.60 659.11,237.89 659.14,239.16 659.18,239.08 659.22,236.53 659.25,240.00 659.29,239.06 659.32,237.63 659.36,235.84 659.39,236.48 659.43,237.81 659.47,240.25 659.50,238.40 659.54,237.05 659.57,238.74 659.61,236.21 659.65,237.80 659.68,237.75 659.72,238.86 659.75,237.36 659.79,239.15 659.83,238.41 659.86,237.13 659.90,237.85 659.93,234.99 659.97,239.59 660.00,238.61 660.04,239.08 660.08,239.27 660.11,235.00 660.15,240.51 660.18,237.59 660.22,238.27 660.26,238.28 660.29,239.01 660.33,237.76 660.36,238.35 660.40,237.48 660.44,238.83 660.47,237.51 660.51,237.87 660.54,235.61 660.58,238.37 660.62,236.62 660.65,237.37 660.69,237.34 660.72,237.48 660.76,237.95 660.79,238.44 660.83,238.33 660.87,239.90 660.90,238.53 660.94,239.50 660.97,238.91 661.01,240.71 661.05,238.28 661.08,238.81 661.12,237.53 661.15,238.67 661.19,235.33 661.23,238.29 661.26,239.91 661.30,238.83 661.33,239.46 661.37,238.44 661.41,235.31 661.44,236.87 661.48,239.36 661.51,235.85 661.55,238.28 661.58,236.27 661.62,235.63 661.66,238.93 661.69,240.29 661.73,238.20 661.76,237.88 661.80,238.63 661.84,236.33 661.87,237.69 661.91,237.66 661.94,236.92 661.98,238.26 662.02,238.42 662.05,238.67 662.09,237.32 662.12,235.82 662.16,237.84 662.19,236.37 662.23,239.00 662.27,237.62 662.30,236.13 662.34,240.78 662.37,238.86 662.41,238.64 662.45,236.00 662.48,237.05 662.52,235.13 662.55,239.46 662.59,236.07 662.63,237.21 662.66,237.31 662.70,237.11 662.73,237.67 662.77,240.05 662.81,237.43 662.84,236.36 662.88,238.99 662.91,238.34 662.95,236.15 662.98,238.95 663.02,237.63 663.06,237.76 663.09,238.89 663.13,238.65 663.16,239.81 663.20,239.08 663.24,239.81 663.27,238.05 663.31,236.12 663.34,238.85 663.38,239.82 663.42,237.31 663.45,236.57 663.49,238.10 663.52,237.66 663.56,239.49 663.59,236.30 663.63,237.01 663.67,236.34 663.70,235.84 663.74,237.05 663.77,239.57 663.81,237.68 663.85,238.11 663.88,237.39 663.92,240.80 663.95,238.28 663.99,236.83 664.03,236.17 664.06,237.34 664.10,236.26 664.13,237.83 664.17,239.87 664.21,238.35 664.24,238.66 664.28,240.88 664.31,239.19 664.35,240.38 664.38,236.78 664.42,237.30 664.46,239.76 664.49,240.89 664.53,238.60 664.56,235.59 664.60,240.59 664.64,239.11 664.67,238.80 664.71,237.28 664.74,237.03 664.78,239.41 664.82,239.07 664.85,239.45 664.89,237.57 664.92,239.13 664.96,235.71 665.00,237.15 665.03,238.42 665.07,238.41 665.10,235.37 665.14,238.80 665.17,239.12 665.21,238.44 665.25,238.16 665.28,240.33 665.32,237.15 665.35,239.42 665.39,237.33 665.43,240.94 665.46,238.49 665.50,239.35 665.53,237.52 665.57,237.35 665.61,240.95 665.64,239.00 665.68,236.80 665.71,237.03 665.75,237.40 665.78,239.09 665.82,240.06 665.86,237.28 665.89,238.22 665.93,238.04 665.96,238.32 666.00,237.78 666.04,236.93 666.07,238.63 666.11,237.66 666.14,238.62 666.18,239.34 666.22,236.67 666.25,237.24 666.29,237.22 666.32,238.37 666.36,238.04 666.40,239.71 666.43,235.32 666.47,238.61 666.50,237.99 666.54,238.60 666.57,239.19 666.61,240.58 666.65,237.58 666.68,237.92 666.72,237.63 666.75,239.16 666.79,237.08 666.83,239.48 666.86,238.17 666.90,236.53 666.93,239.57 666.97,237.75 667.01,240.16 667.04,239.20 667.08,237.15 667.11,239.32 667.15,237.70 667.18,238.10 667.22,239.28 667.26,238.73 667.29,237.84 667.33,237.92 667.36,236.96 667.40,237.50 667.44,238.83 667.47,239.11 667.51,239.37 667.54,237.88 667.58,238.18 667.62,239.11 667.65,236.57 667.69,237.73 667.72,237.72 667.76,238.03 667.80,236.89 667.83,236.28 667.87,237.33 667.90,240.45 667.94,237.28 667.97,237.21 668.01,241.05 668.05,236.21 668.08,236.72 668.12,239.57 668.15,237.90 668.19,238.18 668.23,238.45 668.26,239.07 668.30,236.14 668.33,236.09 668.37,237.95 668.41,238.39 668.44,238.29 668.48,237.29 668.51,237.78 668.55,239.66 668.59,240.60 668.62,238.25 668.66,238.58 668.69,239.35 668.73,239.28 668.76,239.33 668.80,237.93 668.84,237.31 668.87,239.76 668.91,237.49 668.94,238.44 668.98,238.70 669.02,237.72 669.05,238.17 669.09,237.54 669.12,238.88 669.16,239.18 669.20,237.67 669.23,239.95 669.27,237.60 669.30,237.30 669.34,237.28 669.37,240.08 669.41,235.45 669.45,237.71 669.48,241.01 669.52,237.02 669.55,239.83 669.59,239.46 669.63,238.61 669.66,237.62 669.70,238.32 669.73,239.55 669.77,239.96 669.81,237.82 669.84,237.77 669.88,238.68 669.91,237.84 669.95,240.95 669.99,237.83 670.02,237.90 670.06,235.86 670.09,240.25 670.13,239.89 670.16,239.85 670.20,236.92 670.24,237.95 670.27,237.67 670.31,238.52 670.34,238.90 670.38,237.99 670.42,238.40 670.45,238.25 670.49,238.04 670.52,239.07 670.56,237.52 670.60,238.55 670.63,239.44 670.67,238.39 670.70,238.60 670.74,237.84 670.77,235.50 670.81,237.91 670.85,238.87 670.88,238.82 670.92,237.34 670.95,238.47 670.99,239.24 671.03,239.16 671.06,238.11 671.10,237.08 671.13,237.19 671.17,237.71 671.21,237.12 671.24,238.04 671.28,236.72 671.31,236.85 671.35,238.40 671.39,237.83 671.42,236.46 671.46,240.28 671.49,238.80 671.53,238.24 671.56,241.20 671.60,237.52 671.64,238.66 671.67,238.55 671.71,237.08 671.74,235.54 671.78,239.83 671.82,238.23 671.85,239.90 671.89,238.88 671.92,239.33 671.96,239.23 672.00,237.15 672.03,238.23 672.07,239.69 672.10,236.62 672.14,240.51 672.18,235.81 672.21,237.45 672.25,237.10 672.28,236.63 672.32,238.93 672.35,237.07 672.39,238.27 672.43,237.71 672.46,238.81 672.50,238.60 672.53,235.90 672.57,238.14 672.61,239.37 672.64,239.01 672.68,239.74 672.71,238.17 672.75,238.64 672.79,236.16 672.82,237.60 672.86,237.58 672.89,239.48 672.93,238.56 672.96,238.63 673.00,238.96 673.04,237.79 673.07,237.89 673.11,237.04 673.14,238.13 673.18,238.77 673.22,238.59 673.25,239.12 673.29,239.51 673.32,239.63 673.36,238.74 673.40,238.27 673.43,240.43 673.47,236.99 673.50,237.59 673.54,236.64 673.58,237.73 673.61,239.34 673.65,237.52 673.68,237.94 673.72,239.06 673.75,239.88 673.79,239.02 673.83,238.85 673.86,239.63 673.90,236.91 673.93,239.10 673.97,239.43 674.01,238.55 674.04,238.13 674.08,237.88 674.11,237.11 674.15,238.75 674.19,237.69 674.22,237.48 674.26,239.31 674.29,238.24 674.33,237.38 674.36,237.51 674.40,239.07 674.44,237.22 674.47,238.44 674.51,239.40 674.54,239.43 674.58,238.08 674.62,237.07 674.65,238.95 674.69,237.56 674.72,237.84 674.76,237.96 674.80,237.29 674.83,236.90 674.87,239.39 674.90,236.86 674.94,236.19 674.98,238.05 675.01,239.19 675.05,237.14 675.08,238.43 675.12,240.42 675.15,237.37 675.19,238.53 675.23,240.31 675.26,237.95 675.30,237.80 675.33,236.54 675.37,237.47 675.41,239.44 675.44,238.10 675.48,237.35 675.51,239.02 675.55,239.43 675.59,238.42 675.62,239.24 675.66,238.95 675.69,237.09 675.73,239.33 675.77,239.43 675.80,238.45 675.84,240.10 675.87,238.34 675.91,238.90 675.94,239.72 675.98,238.28 676.02,240.34 676.05,236.99 676.09,239.00 676.12,239.34 676.16,239.28 676.20,238.87 676.23,237.79 676.27,238.59 676.30,238.21 676.34,238.17 676.38,238.09 676.41,237.73 676.45,237.06 676.48,238.22 676.52,237.82 676.55,236.00 676.59,239.20 676.63,238.62 676.66,240.68 676.70,236.88 676.73,237.04 676.77,238.96 676.81,237.26 676.84,239.89 676.88,235.90 676.91,240.77 676.95,239.22 676.99,238.67 677.02,238.89 677.06,237.62 677.09,238.72 677.13,240.53 677.17,238.48 677.20,239.69 677.24,239.33 677.27,237.19 677.31,238.88 677.34,238.91 677.38,237.21 677.42,241.12 677.45,237.93 677.49,237.59 677.52,240.43 677.56,237.75 677.60,237.60 677.63,239.97 677.67,238.77 677.70,235.91 677.74,238.38 677.78,238.95 677.81,237.15 677.85,239.22 677.88,239.24 677.92,239.42 677.95,241.41 677.99,237.62 678.03,238.57 678.06,240.00 678.10,237.55 678.13,236.04 678.17,236.69 678.21,241.05 678.24,237.43 678.28,237.09 678.31,237.20 678.35,238.68 678.39,237.18 678.42,239.52 678.46,239.20 678.49,239.85 678.53,240.78 678.57,238.25 678.60,240.22 678.64,240.21 678.67,238.49 678.71,237.98 678.74,238.32 678.78,238.84 678.82,238.01 678.85,237.35 678.89,238.47 678.92,238.98 678.96,238.86 679.00,236.95 679.03,237.54 679.07,239.08 679.10,237.95 679.14,237.39 679.18,238.43 679.21,237.46 679.25,237.66 679.28,238.97 679.32,238.36 679.36,238.54 679.39,239.17 679.43,238.45 679.46,238.27 679.50,240.53 679.53,240.88 679.57,239.25 679.61,239.57 679.64,238.81 679.68,239.76 679.71,240.10 679.75,238.16 679.79,241.36 679.82,238.24 679.86,238.07 679.89,238.74 679.93,238.30 679.97,240.55 680.00,238.18 680.04,238.57 680.07,238.98 680.11,237.63 680.14,239.24 680.18,237.81 680.22,239.25 680.25,238.99 680.29,237.72 680.32,238.76 680.36,238.54 680.40,237.51 680.43,237.67 680.47,238.90 680.50,239.54 680.54,237.64 680.58,238.66 680.61,238.22 680.65,235.82 680.68,238.84 680.72,239.58 680.76,238.37 680.79,238.90 680.83,238.00 680.86,238.64 680.90,240.10 680.93,237.37 680.97,239.84 681.01,239.32 681.04,238.09 681.08,240.35 681.11,236.93 681.15,238.00 681.19,236.94 681.22,238.16 681.26,240.09 681.29,238.16 681.33,240.13 681.37,239.14 681.40,238.18 681.44,237.60 681.47,238.74 681.51,238.40 681.54,240.21 681.58,240.59 681.62,238.43 681.65,239.51 681.69,240.26 681.72,240.04 681.76,239.41 681.80,238.99 681.83,238.98 681.87,238.92 681.90,240.18 681.94,239.49 681.98,237.94 682.01,236.84 682.05,237.14 682.08,239.69 682.12,237.72 682.16,238.36 682.19,239.49" fill="none" stroke="#000080" stroke-width="0.85" stroke-linejoin="round"/>
<path d="M583.5,176.1 H682.2 V314.0" fill="none" stroke="#222" stroke-width="0.7"/>
<path d="M583.5,175.79999999999998 V314.0 H682.2" fill="none" stroke="#000" stroke-width="1.2"/>
<path d="M580.7,246.4 l5.6,-3.0 l0,-1.2 l-5.6,3.0 Z" fill="#fff" stroke="none"/>
<path d="M580.7,245.0 l5.6,-3.0 M580.7,247.4 l5.6,-3.0" stroke="#111" stroke-width="1" fill="none"/>
<path d="M679.4,246.4 l5.6,-3.0 l0,-1.2 l-5.6,3.0 Z" fill="#fff" stroke="none"/>
<path d="M679.4,245.0 l5.6,-3.0 M679.4,247.4 l5.6,-3.0" stroke="#111" stroke-width="1" fill="none"/>
<text x="580.5" y="240.0" font-size="7.5" text-anchor="end" fill="#111">2.6</text>
<text x="580.5" y="228.2" font-size="7.5" text-anchor="end" fill="#111">2.7</text>
<text x="580.5" y="216.4" font-size="7.5" text-anchor="end" fill="#111">2.8</text>
<text x="580.5" y="204.6" font-size="7.5" text-anchor="end" fill="#111">2.9</text>
<text x="580.5" y="192.8" font-size="7.5" text-anchor="end" fill="#111">3.0</text>
<text x="580.5" y="181.0" font-size="7.5" text-anchor="end" fill="#111">3.1</text>
<text x="580.5" y="316.8" font-size="7.5" text-anchor="end" fill="#111">0.0</text>
<text x="580.5" y="302.8" font-size="7.5" text-anchor="end" fill="#111">0.5</text>
<text x="580.5" y="288.8" font-size="7.5" text-anchor="end" fill="#111">1.0</text>
<text x="580.5" y="274.8" font-size="7.5" text-anchor="end" fill="#111">1.5</text>
<text x="580.5" y="260.8" font-size="7.5" text-anchor="end" fill="#111">2.0</text>
<text x="590.2" y="323" font-size="7.3" text-anchor="middle" fill="#111">0</text>
<text x="604.6" y="323" font-size="7.3" text-anchor="middle" fill="#111">20</text>
<text x="618.9" y="323" font-size="7.3" text-anchor="middle" fill="#111">40</text>
<text x="633.3" y="323" font-size="7.3" text-anchor="middle" fill="#111">60</text>
<text x="647.6" y="323" font-size="7.3" text-anchor="middle" fill="#111">80</text>
<text x="662.0" y="323" font-size="7.3" text-anchor="middle" fill="#111">100</text>
<text x="676.4" y="323" font-size="7.3" text-anchor="middle" fill="#111">120</text>
<path d="M583.5,237.20 h3.0 M583.5,231.30 h1.6 M583.5,225.40 h3.0 M583.5,219.50 h1.6 M583.5,213.60 h3.0 M583.5,207.70 h1.6 M583.5,201.80 h3.0 M583.5,195.90 h1.6 M583.5,190.00 h3.0 M583.5,184.10 h1.6 M583.5,178.20 h3.0 M583.5,314.00 h3.0 M583.5,307.00 h1.6 M583.5,300.00 h3.0 M583.5,293.00 h1.6 M583.5,286.00 h3.0 M583.5,279.00 h1.6 M583.5,272.00 h3.0 M583.5,265.00 h1.6 M583.5,258.00 h3.0 M590.00,314.0 v-3.0 M597.18,314.0 v-1.6 M604.36,314.0 v-3.0 M611.54,314.0 v-1.6 M618.72,314.0 v-3.0 M625.90,314.0 v-1.6 M633.08,314.0 v-3.0 M640.26,314.0 v-1.6 M647.44,314.0 v-3.0 M654.62,314.0 v-1.6 M661.80,314.0 v-3.0 M668.98,314.0 v-1.6 M676.16,314.0 v-3.0 M683.34,314.0 v-1.6" stroke="#000" stroke-width="1" fill="none"/>
<text x="633.1" y="336.1" font-size="11.8" text-anchor="middle" fill="#111">Time (ns)</text>
<text transform="translate(565.3,244.4) rotate(-90)" font-size="11.5" text-anchor="middle" fill="#111">TRPL counts (×10<tspan font-size="9" dy="-3.6">3</tspan><tspan dy="3.6">)</tspan></text>
<text x="631.7" y="191.6" font-size="12.5" text-anchor="middle" fill="#000" class="b">(III)</text>
<text x="625.2" y="212.8" font-size="8.7" text-anchor="middle" fill="#1f86d0">Signal of TRPL</text>
<path d="M613.2,226.8 q5,-2.6 6.2,-7.5" fill="none" stroke="#1f86d0" stroke-width="1.1"/>
<path d="M620.2,216 l-3.1,4.5 l2.8,-1.1 l2.5,1.8 Z" fill="#1f86d0" stroke="#1f86d0" stroke-width="0.5"/>
<path d="M597.7,244 V310.5" stroke="#1f86d0" stroke-width="1"/>
<path d="M597.7,240.8 l-2.9,5.8 l2.9,-1.4 l2.9,1.4 Z M597.7,313.6 l-2.9,-5.8 l2.9,1.4 l2.9,-1.4 Z" fill="#1f86d0"/>
<text x="631.4" y="272.2" font-size="8.7" text-anchor="middle" fill="#1f86d0">Signal of</text>
<text x="631.4" y="283.8" font-size="8.7" text-anchor="middle" fill="#1f86d0">steady-state PL</text>
</svg></body></html>
